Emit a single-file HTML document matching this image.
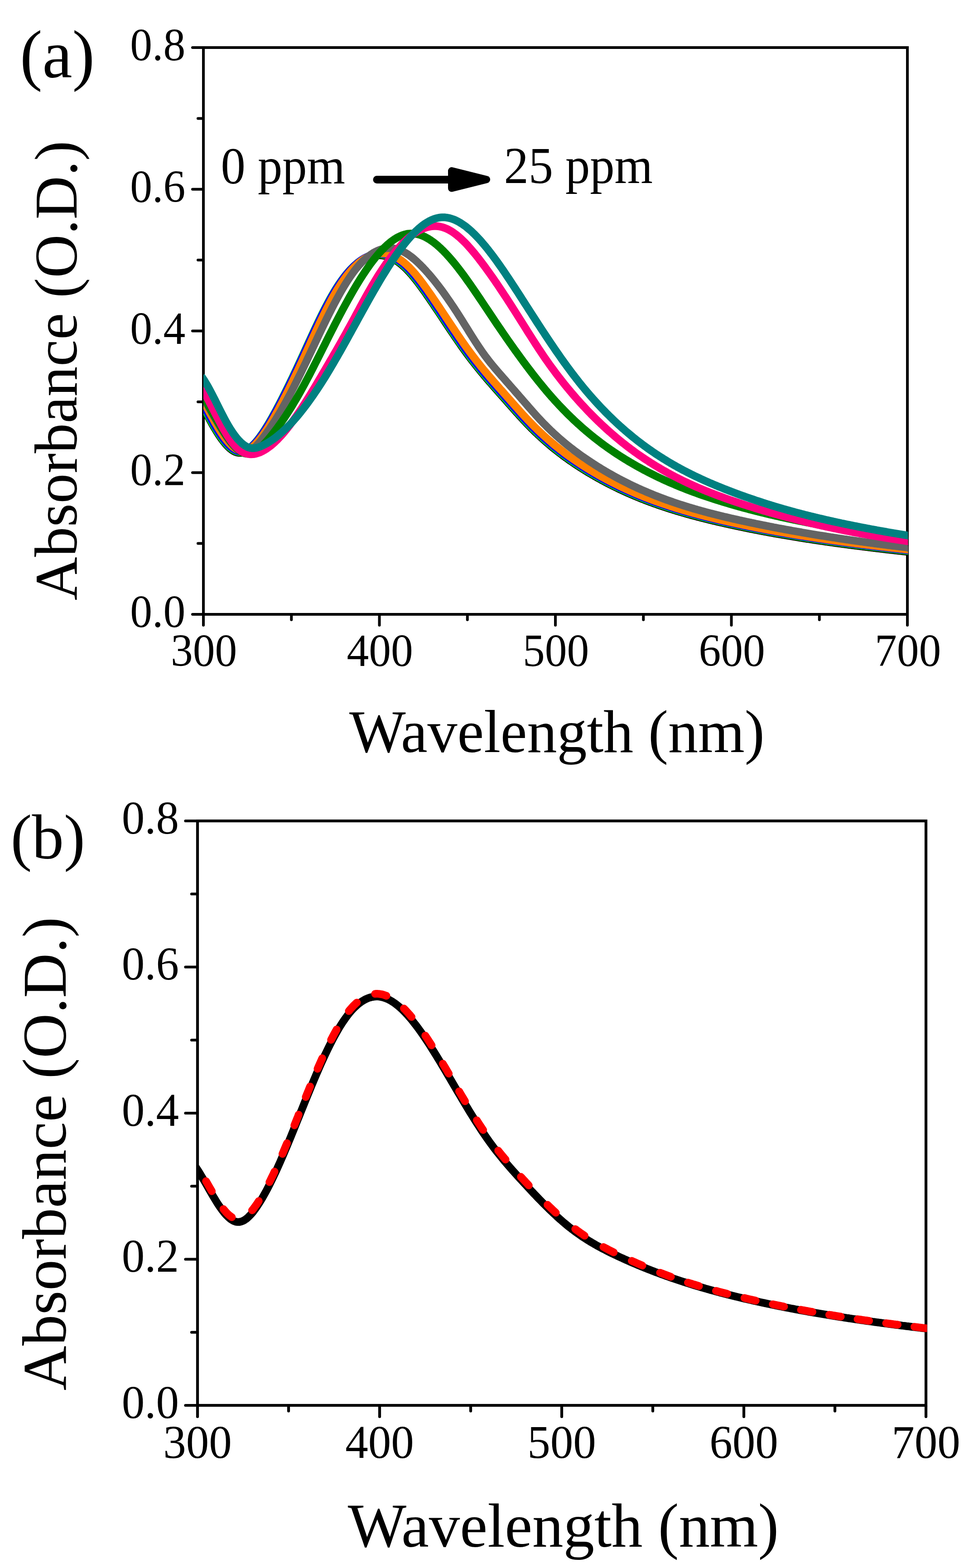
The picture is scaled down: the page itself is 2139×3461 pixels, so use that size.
<!DOCTYPE html>
<html><head><meta charset="utf-8"><title>Absorbance spectra</title>
<style>html,body{margin:0;padding:0;background:#fff;}svg{display:block;}</style>
</head><body>
<svg width="2139" height="3461" viewBox="0 0 2139 3461">
<defs>
<clipPath id="ca"><rect x="449" y="0" width="1555.5" height="1700"/></clipPath>
<clipPath id="cb"><rect x="436" y="1700" width="1610.5" height="1761"/></clipPath>
</defs>
<rect width="2139" height="3461" fill="#fff"/>
<g font-family="'Liberation Serif', 'Times New Roman', serif" fill="#000">
<text transform="translate(44.00,170.50) scale(1,1.01)" font-size="148.6">(a)</text>
<text transform="translate(409.20,1384.00) scale(1,1.035)" font-size="97.5" text-anchor="end">0.0</text>
<text transform="translate(409.20,1071.25) scale(1,1.035)" font-size="97.5" text-anchor="end">0.2</text>
<text transform="translate(409.20,758.50) scale(1,1.035)" font-size="97.5" text-anchor="end">0.4</text>
<text transform="translate(409.20,445.75) scale(1,1.035)" font-size="97.5" text-anchor="end">0.6</text>
<text transform="translate(409.20,133.00) scale(1,1.035)" font-size="97.5" text-anchor="end">0.8</text>
<text transform="translate(450.00,1470.00) scale(1,1.035)" font-size="97.5" text-anchor="middle">300</text>
<text transform="translate(838.50,1470.00) scale(1,1.035)" font-size="97.5" text-anchor="middle">400</text>
<text transform="translate(1227.00,1470.00) scale(1,1.035)" font-size="97.5" text-anchor="middle">500</text>
<text transform="translate(1615.50,1470.00) scale(1,1.035)" font-size="97.5" text-anchor="middle">600</text>
<text transform="translate(2004.00,1470.00) scale(1,1.035)" font-size="97.5" text-anchor="middle">700</text>
<text transform="translate(771.00,1660.00) scale(1,1.01)" font-size="132.0">Wavelength (nm)</text>
<text transform="translate(168.50,1325.30) rotate(-90)" font-size="132.85">Absorbance (O.D.)</text>
<text transform="translate(487.60,404.50) scale(1,1.045)" font-size="108.5">0 ppm</text>
<text transform="translate(1112.40,403.50) scale(1,1.045)" font-size="108.5">25 ppm</text>
<text transform="translate(23.60,1894.50)" font-size="140.8">(b)</text>
<text transform="translate(395.00,3129.60) scale(1,1.03)" font-size="101.0" text-anchor="end">0.0</text>
<text transform="translate(395.00,2807.10) scale(1,1.03)" font-size="101.0" text-anchor="end">0.2</text>
<text transform="translate(395.00,2484.60) scale(1,1.03)" font-size="101.0" text-anchor="end">0.4</text>
<text transform="translate(395.00,2162.10) scale(1,1.03)" font-size="101.0" text-anchor="end">0.6</text>
<text transform="translate(395.00,1839.60) scale(1,1.03)" font-size="101.0" text-anchor="end">0.8</text>
<text transform="translate(436.00,3218.30) scale(1,1.03)" font-size="101.0" text-anchor="middle">300</text>
<text transform="translate(838.00,3218.30) scale(1,1.03)" font-size="101.0" text-anchor="middle">400</text>
<text transform="translate(1240.00,3218.30) scale(1,1.03)" font-size="101.0" text-anchor="middle">500</text>
<text transform="translate(1642.00,3218.30) scale(1,1.03)" font-size="101.0" text-anchor="middle">600</text>
<text transform="translate(2044.00,3218.30) scale(1,1.03)" font-size="101.0" text-anchor="middle">700</text>
<text transform="translate(767.70,3413.60)" font-size="137.0">Wavelength (nm)</text>
<text transform="translate(145.00,3069.20) rotate(-90)" font-size="136.9">Absorbance (O.D.)</text>
</g>
<rect x="449" y="105" width="1554" height="1251" fill="none" stroke="#000" stroke-width="6" stroke-linejoin="miter"/>
<line x1="449.00" y1="1356" x2="449.00" y2="1380" stroke="#000" stroke-width="6" stroke-linecap="round"/>
<line x1="643.25" y1="1356" x2="643.25" y2="1368" stroke="#000" stroke-width="6" stroke-linecap="round"/>
<line x1="837.50" y1="1356" x2="837.50" y2="1380" stroke="#000" stroke-width="6" stroke-linecap="round"/>
<line x1="1031.75" y1="1356" x2="1031.75" y2="1368" stroke="#000" stroke-width="6" stroke-linecap="round"/>
<line x1="1226.00" y1="1356" x2="1226.00" y2="1380" stroke="#000" stroke-width="6" stroke-linecap="round"/>
<line x1="1420.25" y1="1356" x2="1420.25" y2="1368" stroke="#000" stroke-width="6" stroke-linecap="round"/>
<line x1="1614.50" y1="1356" x2="1614.50" y2="1380" stroke="#000" stroke-width="6" stroke-linecap="round"/>
<line x1="1808.75" y1="1356" x2="1808.75" y2="1368" stroke="#000" stroke-width="6" stroke-linecap="round"/>
<line x1="2003.00" y1="1356" x2="2003.00" y2="1380" stroke="#000" stroke-width="6" stroke-linecap="round"/>
<line x1="449" y1="1356.00" x2="425" y2="1356.00" stroke="#000" stroke-width="6" stroke-linecap="round"/>
<line x1="449" y1="1199.62" x2="437" y2="1199.62" stroke="#000" stroke-width="6" stroke-linecap="round"/>
<line x1="449" y1="1043.25" x2="425" y2="1043.25" stroke="#000" stroke-width="6" stroke-linecap="round"/>
<line x1="449" y1="886.88" x2="437" y2="886.88" stroke="#000" stroke-width="6" stroke-linecap="round"/>
<line x1="449" y1="730.50" x2="425" y2="730.50" stroke="#000" stroke-width="6" stroke-linecap="round"/>
<line x1="449" y1="574.12" x2="437" y2="574.12" stroke="#000" stroke-width="6" stroke-linecap="round"/>
<line x1="449" y1="417.75" x2="425" y2="417.75" stroke="#000" stroke-width="6" stroke-linecap="round"/>
<line x1="449" y1="261.38" x2="437" y2="261.38" stroke="#000" stroke-width="6" stroke-linecap="round"/>
<line x1="449" y1="105.00" x2="425" y2="105.00" stroke="#000" stroke-width="6" stroke-linecap="round"/>
<rect x="436" y="1812" width="1608" height="1290" fill="none" stroke="#000" stroke-width="6.2" stroke-linejoin="miter"/>
<line x1="436.00" y1="3102" x2="436.00" y2="3127" stroke="#000" stroke-width="6.2" stroke-linecap="round"/>
<line x1="637.00" y1="3102" x2="637.00" y2="3114.5" stroke="#000" stroke-width="6.2" stroke-linecap="round"/>
<line x1="838.00" y1="3102" x2="838.00" y2="3127" stroke="#000" stroke-width="6.2" stroke-linecap="round"/>
<line x1="1039.00" y1="3102" x2="1039.00" y2="3114.5" stroke="#000" stroke-width="6.2" stroke-linecap="round"/>
<line x1="1240.00" y1="3102" x2="1240.00" y2="3127" stroke="#000" stroke-width="6.2" stroke-linecap="round"/>
<line x1="1441.00" y1="3102" x2="1441.00" y2="3114.5" stroke="#000" stroke-width="6.2" stroke-linecap="round"/>
<line x1="1642.00" y1="3102" x2="1642.00" y2="3127" stroke="#000" stroke-width="6.2" stroke-linecap="round"/>
<line x1="1843.00" y1="3102" x2="1843.00" y2="3114.5" stroke="#000" stroke-width="6.2" stroke-linecap="round"/>
<line x1="2044.00" y1="3102" x2="2044.00" y2="3127" stroke="#000" stroke-width="6.2" stroke-linecap="round"/>
<line x1="436" y1="3102.00" x2="409.5" y2="3102.00" stroke="#000" stroke-width="6.2" stroke-linecap="round"/>
<line x1="436" y1="2940.75" x2="423" y2="2940.75" stroke="#000" stroke-width="6.2" stroke-linecap="round"/>
<line x1="436" y1="2779.50" x2="409.5" y2="2779.50" stroke="#000" stroke-width="6.2" stroke-linecap="round"/>
<line x1="436" y1="2618.25" x2="423" y2="2618.25" stroke="#000" stroke-width="6.2" stroke-linecap="round"/>
<line x1="436" y1="2457.00" x2="409.5" y2="2457.00" stroke="#000" stroke-width="6.2" stroke-linecap="round"/>
<line x1="436" y1="2295.75" x2="423" y2="2295.75" stroke="#000" stroke-width="6.2" stroke-linecap="round"/>
<line x1="436" y1="2134.50" x2="409.5" y2="2134.50" stroke="#000" stroke-width="6.2" stroke-linecap="round"/>
<line x1="436" y1="1973.25" x2="423" y2="1973.25" stroke="#000" stroke-width="6.2" stroke-linecap="round"/>
<line x1="436" y1="1812.00" x2="409.5" y2="1812.00" stroke="#000" stroke-width="6.2" stroke-linecap="round"/>
<line x1="832" y1="396.4" x2="995" y2="396.4" stroke="#000" stroke-width="17" stroke-linecap="round"/><polygon points="997,377 997,415.5 1074,396.2" fill="#000" stroke="#000" stroke-width="16" stroke-linejoin="round"/>
<g clip-path="url(#ca)" fill="none" stroke-linejoin="round">
<path d="M444.5,891.5 L447.5,897.3 L450.5,903.0 L453.5,908.7 L456.5,914.4 L459.5,920.0 L462.5,925.5 L465.5,930.9 L468.5,936.3 L471.5,941.5 L474.5,946.5 L477.5,951.5 L480.5,956.2 L483.5,960.8 L486.5,965.3 L489.5,969.5 L492.5,973.5 L495.5,977.2 L498.5,980.8 L501.5,984.0 L504.5,987.0 L507.5,989.8 L510.5,992.2 L513.5,994.3 L516.5,996.1 L519.5,997.5 L522.5,998.6 L525.5,999.3 L528.5,999.6 L531.5,999.6 L534.5,999.2 L537.5,998.4 L540.5,997.2 L543.5,995.7 L546.5,993.9 L549.5,991.8 L552.5,989.4 L555.5,986.7 L558.5,983.8 L561.5,980.6 L564.5,977.2 L567.5,973.5 L570.5,969.7 L573.5,965.7 L576.5,961.5 L579.5,957.1 L582.5,952.6 L585.5,947.9 L588.5,943.1 L591.5,938.2 L594.5,933.1 L597.5,927.9 L600.5,922.6 L603.5,917.2 L606.5,911.7 L609.5,906.2 L612.5,900.5 L615.5,894.8 L618.5,889.0 L621.5,883.2 L624.5,877.3 L627.5,871.3 L630.5,865.3 L633.5,859.2 L636.5,853.1 L639.5,846.9 L642.5,840.7 L645.5,834.4 L648.5,828.1 L651.5,821.7 L654.5,815.3 L657.5,808.9 L660.5,802.4 L663.5,795.9 L666.5,789.4 L669.5,782.8 L672.5,776.2 L675.5,769.7 L678.5,763.1 L681.5,756.5 L684.5,750.0 L687.5,743.5 L690.5,737.0 L693.5,730.6 L696.5,724.2 L699.5,717.8 L702.5,711.5 L705.5,705.3 L708.5,699.2 L711.5,693.1 L714.5,687.1 L717.5,681.3 L720.5,675.5 L723.5,669.8 L726.5,664.3 L729.5,658.9 L732.5,653.6 L735.5,648.4 L738.5,643.4 L741.5,638.6 L744.5,633.9 L747.5,629.4 L750.5,625.0 L753.5,620.7 L756.5,616.6 L759.5,612.7 L762.5,608.9 L765.5,605.3 L768.5,601.8 L771.5,598.5 L774.5,595.3 L777.5,592.3 L780.5,589.4 L783.5,586.6 L786.5,584.1 L789.5,581.6 L792.5,579.4 L795.5,577.3 L798.5,575.3 L801.5,573.5 L804.5,571.8 L807.5,570.3 L810.5,568.9 L813.5,567.7 L816.5,566.6 L819.5,565.7 L822.5,564.9 L825.5,564.3 L828.5,563.8 L831.5,563.5 L834.5,563.4 L837.5,563.3 L840.5,563.5 L843.5,563.8 L846.5,564.2 L849.5,564.8 L852.5,565.5 L855.5,566.4 L858.5,567.4 L861.5,568.6 L864.5,569.9 L867.5,571.4 L870.5,573.0 L873.5,574.8 L876.5,576.8 L879.5,578.8 L882.5,581.1 L885.5,583.4 L888.5,586.0 L891.5,588.6 L894.5,591.5 L897.5,594.4 L900.5,597.5 L903.5,600.7 L906.5,604.1 L909.5,607.5 L912.5,611.1 L915.5,614.8 L918.5,618.5 L921.5,622.4 L924.5,626.3 L927.5,630.3 L930.5,634.4 L933.5,638.6 L936.5,642.7 L939.5,647.0 L942.5,651.3 L945.5,655.6 L948.5,660.0 L951.5,664.4 L954.5,668.8 L957.5,673.2 L960.5,677.7 L963.5,682.1 L966.5,686.6 L969.5,691.1 L972.5,695.6 L975.5,700.1 L978.5,704.7 L981.5,709.2 L984.5,713.7 L987.5,718.2 L990.5,722.7 L993.5,727.2 L996.5,731.6 L999.5,736.1 L1002.5,740.5 L1005.5,744.9 L1008.5,749.3 L1011.5,753.7 L1014.5,758.0 L1017.5,762.3 L1020.5,766.6 L1023.5,770.8 L1026.5,774.9 L1029.5,779.1 L1032.5,783.1 L1035.5,787.1 L1038.5,791.1 L1041.5,795.0 L1044.5,798.9 L1047.5,802.7 L1050.5,806.5 L1053.5,810.3 L1056.5,814.0 L1059.5,817.7 L1062.5,821.3 L1065.5,824.9 L1068.5,828.5 L1071.5,832.1 L1074.5,835.6 L1077.5,839.1 L1080.5,842.6 L1083.5,846.0 L1086.5,849.5 L1089.5,852.9 L1092.5,856.3 L1095.5,859.8 L1098.5,863.2 L1101.5,866.5 L1104.5,869.9 L1107.5,873.3 L1110.5,876.7 L1113.5,880.1 L1116.5,883.5 L1119.5,886.9 L1122.5,890.3 L1125.5,893.7 L1128.5,897.1 L1131.5,900.5 L1134.5,903.9 L1137.5,907.2 L1140.5,910.6 L1143.5,913.9 L1146.5,917.3 L1149.5,920.6 L1152.5,923.8 L1155.5,927.1 L1158.5,930.3 L1161.5,933.5 L1164.5,936.6 L1167.5,939.7 L1170.5,942.7 L1173.5,945.8 L1176.5,948.7 L1179.5,951.7 L1182.5,954.6 L1185.5,957.4 L1188.5,960.3 L1191.5,963.0 L1194.5,965.8 L1197.5,968.5 L1200.5,971.2 L1203.5,973.8 L1206.5,976.5 L1209.5,979.0 L1212.5,981.6 L1215.5,984.1 L1218.5,986.6 L1221.5,989.0 L1224.5,991.5 L1227.5,993.8 L1230.5,996.2 L1233.5,998.5 L1236.5,1000.8 L1239.5,1003.1 L1242.5,1005.4 L1245.5,1007.6 L1248.5,1009.8 L1251.5,1011.9 L1254.5,1014.1 L1257.5,1016.2 L1260.5,1018.3 L1263.5,1020.3 L1266.5,1022.4 L1269.5,1024.4 L1272.5,1026.4 L1275.5,1028.4 L1278.5,1030.3 L1281.5,1032.2 L1284.5,1034.1 L1287.5,1036.0 L1290.5,1037.9 L1293.5,1039.7 L1296.5,1041.6 L1299.5,1043.4 L1302.5,1045.2 L1305.5,1046.9 L1308.5,1048.7 L1311.5,1050.4 L1314.5,1052.2 L1317.5,1053.9 L1320.5,1055.5 L1323.5,1057.2 L1326.5,1058.9 L1329.5,1060.5 L1332.5,1062.1 L1335.5,1063.7 L1338.5,1065.3 L1341.5,1066.8 L1344.5,1068.4 L1347.5,1069.9 L1350.5,1071.4 L1353.5,1072.9 L1356.5,1074.4 L1359.5,1075.9 L1362.5,1077.3 L1365.5,1078.8 L1368.5,1080.2 L1371.5,1081.6 L1374.5,1083.0 L1377.5,1084.4 L1380.5,1085.7 L1383.5,1087.1 L1386.5,1088.4 L1389.5,1089.7 L1392.5,1091.1 L1395.5,1092.3 L1398.5,1093.6 L1401.5,1094.9 L1404.5,1096.1 L1407.5,1097.4 L1410.5,1098.6 L1413.5,1099.8 L1416.5,1101.0 L1419.5,1102.2 L1422.5,1103.4 L1425.5,1104.5 L1428.5,1105.7 L1431.5,1106.8 L1434.5,1107.9 L1437.5,1109.0 L1440.5,1110.1 L1443.5,1111.2 L1446.5,1112.3 L1449.5,1113.3 L1452.5,1114.4 L1455.5,1115.4 L1458.5,1116.5 L1461.5,1117.5 L1464.5,1118.5 L1467.5,1119.5 L1470.5,1120.5 L1473.5,1121.5 L1476.5,1122.4 L1479.5,1123.4 L1482.5,1124.3 L1485.5,1125.3 L1488.5,1126.2 L1491.5,1127.1 L1494.5,1128.0 L1497.5,1128.9 L1500.5,1129.8 L1503.5,1130.7 L1506.5,1131.6 L1509.5,1132.4 L1512.5,1133.3 L1515.5,1134.2 L1518.5,1135.0 L1521.5,1135.8 L1524.5,1136.7 L1527.5,1137.5 L1530.5,1138.3 L1533.5,1139.1 L1536.5,1139.9 L1539.5,1140.7 L1542.5,1141.4 L1545.5,1142.2 L1548.5,1143.0 L1551.5,1143.8 L1554.5,1144.5 L1557.5,1145.3 L1560.5,1146.0 L1563.5,1146.7 L1566.5,1147.5 L1569.5,1148.2 L1572.5,1148.9 L1575.5,1149.6 L1578.5,1150.3 L1581.5,1151.1 L1584.5,1151.8 L1587.5,1152.4 L1590.5,1153.1 L1593.5,1153.8 L1596.5,1154.5 L1599.5,1155.2 L1602.5,1155.9 L1605.5,1156.5 L1608.5,1157.2 L1611.5,1157.9 L1614.5,1158.5 L1617.5,1159.2 L1620.5,1159.8 L1623.5,1160.5 L1626.5,1161.1 L1629.5,1161.7 L1632.5,1162.4 L1635.5,1163.0 L1638.5,1163.6 L1641.5,1164.2 L1644.5,1164.9 L1647.5,1165.5 L1650.5,1166.1 L1653.5,1166.7 L1656.5,1167.3 L1659.5,1167.9 L1662.5,1168.5 L1665.5,1169.1 L1668.5,1169.7 L1671.5,1170.2 L1674.5,1170.8 L1677.5,1171.4 L1680.5,1172.0 L1683.5,1172.5 L1686.5,1173.1 L1689.5,1173.7 L1692.5,1174.2 L1695.5,1174.8 L1698.5,1175.3 L1701.5,1175.9 L1704.5,1176.4 L1707.5,1177.0 L1710.5,1177.5 L1713.5,1178.0 L1716.5,1178.6 L1719.5,1179.1 L1722.5,1179.6 L1725.5,1180.1 L1728.5,1180.7 L1731.5,1181.2 L1734.5,1181.7 L1737.5,1182.2 L1740.5,1182.7 L1743.5,1183.2 L1746.5,1183.7 L1749.5,1184.2 L1752.5,1184.7 L1755.5,1185.2 L1758.5,1185.7 L1761.5,1186.2 L1764.5,1186.7 L1767.5,1187.1 L1770.5,1187.6 L1773.5,1188.1 L1776.5,1188.6 L1779.5,1189.0 L1782.5,1189.5 L1785.5,1189.9 L1788.5,1190.4 L1791.5,1190.9 L1794.5,1191.3 L1797.5,1191.8 L1800.5,1192.2 L1803.5,1192.7 L1806.5,1193.1 L1809.5,1193.6 L1812.5,1194.0 L1815.5,1194.4 L1818.5,1194.9 L1821.5,1195.3 L1824.5,1195.7 L1827.5,1196.2 L1830.5,1196.6 L1833.5,1197.0 L1836.5,1197.4 L1839.5,1197.8 L1842.5,1198.3 L1845.5,1198.7 L1848.5,1199.1 L1851.5,1199.5 L1854.5,1199.9 L1857.5,1200.3 L1860.5,1200.7 L1863.5,1201.1 L1866.5,1201.5 L1869.5,1201.9 L1872.5,1202.3 L1875.5,1202.7 L1878.5,1203.1 L1881.5,1203.5 L1884.5,1203.9 L1887.5,1204.2 L1890.5,1204.6 L1893.5,1205.0 L1896.5,1205.4 L1899.5,1205.8 L1902.5,1206.1 L1905.5,1206.5 L1908.5,1206.9 L1911.5,1207.3 L1914.5,1207.6 L1917.5,1208.0 L1920.5,1208.4 L1923.5,1208.7 L1926.5,1209.1 L1929.5,1209.5 L1932.5,1209.8 L1935.5,1210.2 L1938.5,1210.5 L1941.5,1210.9 L1944.5,1211.3 L1947.5,1211.6 L1950.5,1212.0 L1953.5,1212.3 L1956.5,1212.7 L1959.5,1213.0 L1962.5,1213.4 L1965.5,1213.7 L1968.5,1214.0 L1971.5,1214.4 L1974.5,1214.7 L1977.5,1215.1 L1980.5,1215.4 L1983.5,1215.8 L1986.5,1216.1 L1989.5,1216.4 L1992.5,1216.8 L1995.5,1217.1 L1998.5,1217.4 L2001.5,1217.8 L2004.5,1218.1 L2007.5,1218.4 L2010.5,1218.8 L2012.0,1218.9" stroke="#000000" stroke-width="17"/>
<path d="M444.5,888.7 L447.5,894.4 L450.5,900.2 L453.5,905.9 L456.5,911.5 L459.5,917.2 L462.5,922.7 L465.5,928.1 L468.5,933.5 L471.5,938.7 L474.5,943.8 L477.5,948.8 L480.5,953.6 L483.5,958.2 L486.5,962.6 L489.5,966.9 L492.5,970.9 L495.5,974.7 L498.5,978.3 L501.5,981.6 L504.5,984.7 L507.5,987.4 L510.5,989.9 L513.5,992.0 L516.5,993.9 L519.5,995.4 L522.5,996.5 L525.5,997.3 L528.5,997.7 L531.5,997.7 L534.5,997.4 L537.5,996.6 L540.5,995.5 L543.5,994.1 L546.5,992.3 L549.5,990.3 L552.5,987.9 L555.5,985.3 L558.5,982.4 L561.5,979.2 L564.5,975.9 L567.5,972.3 L570.5,968.5 L573.5,964.5 L576.5,960.3 L579.5,956.0 L582.5,951.5 L585.5,946.8 L588.5,942.0 L591.5,937.1 L594.5,932.0 L597.5,926.9 L600.5,921.6 L603.5,916.2 L606.5,910.7 L609.5,905.2 L612.5,899.6 L615.5,893.9 L618.5,888.1 L621.5,882.3 L624.5,876.4 L627.5,870.4 L630.5,864.4 L633.5,858.3 L636.5,852.2 L639.5,846.0 L642.5,839.8 L645.5,833.6 L648.5,827.2 L651.5,820.9 L654.5,814.5 L657.5,808.1 L660.5,801.6 L663.5,795.1 L666.5,788.6 L669.5,782.0 L672.5,775.4 L675.5,768.9 L678.5,762.3 L681.5,755.7 L684.5,749.2 L687.5,742.7 L690.5,736.2 L693.5,729.7 L696.5,723.3 L699.5,717.0 L702.5,710.7 L705.5,704.5 L708.5,698.3 L711.5,692.2 L714.5,686.2 L717.5,680.3 L720.5,674.6 L723.5,668.9 L726.5,663.3 L729.5,657.9 L732.5,652.6 L735.5,647.4 L738.5,642.4 L741.5,637.5 L744.5,632.8 L747.5,628.2 L750.5,623.8 L753.5,619.5 L756.5,615.4 L759.5,611.4 L762.5,607.6 L765.5,604.0 L768.5,600.5 L771.5,597.1 L774.5,593.9 L777.5,590.8 L780.5,587.9 L783.5,585.2 L786.5,582.6 L789.5,580.1 L792.5,577.8 L795.5,575.7 L798.5,573.7 L801.5,571.8 L804.5,570.2 L807.5,568.6 L810.5,567.2 L813.5,566.0 L816.5,564.9 L819.5,563.9 L822.5,563.1 L825.5,562.5 L828.5,562.0 L831.5,561.7 L834.5,561.5 L837.5,561.4 L840.5,561.5 L843.5,561.8 L846.5,562.2 L849.5,562.8 L852.5,563.5 L855.5,564.3 L858.5,565.3 L861.5,566.5 L864.5,567.8 L867.5,569.3 L870.5,570.9 L873.5,572.6 L876.5,574.5 L879.5,576.6 L882.5,578.8 L885.5,581.1 L888.5,583.6 L891.5,586.3 L894.5,589.1 L897.5,592.0 L900.5,595.1 L903.5,598.3 L906.5,601.6 L909.5,605.1 L912.5,608.6 L915.5,612.3 L918.5,616.0 L921.5,619.8 L924.5,623.8 L927.5,627.8 L930.5,631.8 L933.5,636.0 L936.5,640.1 L939.5,644.4 L942.5,648.7 L945.5,653.0 L948.5,657.3 L951.5,661.7 L954.5,666.1 L957.5,670.6 L960.5,675.0 L963.5,679.5 L966.5,684.0 L969.5,688.5 L972.5,693.0 L975.5,697.5 L978.5,702.0 L981.5,706.5 L984.5,711.0 L987.5,715.5 L990.5,720.0 L993.5,724.5 L996.5,729.0 L999.5,733.5 L1002.5,737.9 L1005.5,742.3 L1008.5,746.7 L1011.5,751.1 L1014.5,755.4 L1017.5,759.7 L1020.5,763.9 L1023.5,768.2 L1026.5,772.3 L1029.5,776.5 L1032.5,780.5 L1035.5,784.6 L1038.5,788.6 L1041.5,792.5 L1044.5,796.4 L1047.5,800.2 L1050.5,804.0 L1053.5,807.8 L1056.5,811.5 L1059.5,815.2 L1062.5,818.8 L1065.5,822.4 L1068.5,826.0 L1071.5,829.6 L1074.5,833.1 L1077.5,836.6 L1080.5,840.1 L1083.5,843.6 L1086.5,847.0 L1089.5,850.5 L1092.5,853.9 L1095.5,857.3 L1098.5,860.7 L1101.5,864.1 L1104.5,867.5 L1107.5,870.9 L1110.5,874.2 L1113.5,877.6 L1116.5,881.0 L1119.5,884.4 L1122.5,887.8 L1125.5,891.2 L1128.5,894.6 L1131.5,898.0 L1134.5,901.4 L1137.5,904.8 L1140.5,908.1 L1143.5,911.5 L1146.5,914.8 L1149.5,918.1 L1152.5,921.4 L1155.5,924.6 L1158.5,927.9 L1161.5,931.0 L1164.5,934.2 L1167.5,937.3 L1170.5,940.3 L1173.5,943.4 L1176.5,946.3 L1179.5,949.3 L1182.5,952.2 L1185.5,955.1 L1188.5,957.9 L1191.5,960.7 L1194.5,963.4 L1197.5,966.2 L1200.5,968.9 L1203.5,971.5 L1206.5,974.1 L1209.5,976.7 L1212.5,979.3 L1215.5,981.8 L1218.5,984.3 L1221.5,986.7 L1224.5,989.1 L1227.5,991.5 L1230.5,993.9 L1233.5,996.2 L1236.5,998.6 L1239.5,1000.8 L1242.5,1003.1 L1245.5,1005.3 L1248.5,1007.5 L1251.5,1009.7 L1254.5,1011.8 L1257.5,1013.9 L1260.5,1016.0 L1263.5,1018.1 L1266.5,1020.1 L1269.5,1022.2 L1272.5,1024.1 L1275.5,1026.1 L1278.5,1028.1 L1281.5,1030.0 L1284.5,1031.9 L1287.5,1033.8 L1290.5,1035.7 L1293.5,1037.5 L1296.5,1039.4 L1299.5,1041.2 L1302.5,1043.0 L1305.5,1044.7 L1308.5,1046.5 L1311.5,1048.2 L1314.5,1050.0 L1317.5,1051.7 L1320.5,1053.4 L1323.5,1055.0 L1326.5,1056.7 L1329.5,1058.3 L1332.5,1059.9 L1335.5,1061.5 L1338.5,1063.1 L1341.5,1064.7 L1344.5,1066.2 L1347.5,1067.8 L1350.5,1069.3 L1353.5,1070.8 L1356.5,1072.3 L1359.5,1073.8 L1362.5,1075.2 L1365.5,1076.6 L1368.5,1078.1 L1371.5,1079.5 L1374.5,1080.9 L1377.5,1082.3 L1380.5,1083.6 L1383.5,1085.0 L1386.5,1086.3 L1389.5,1087.6 L1392.5,1088.9 L1395.5,1090.2 L1398.5,1091.5 L1401.5,1092.8 L1404.5,1094.0 L1407.5,1095.3 L1410.5,1096.5 L1413.5,1097.7 L1416.5,1098.9 L1419.5,1100.1 L1422.5,1101.3 L1425.5,1102.4 L1428.5,1103.6 L1431.5,1104.7 L1434.5,1105.8 L1437.5,1106.9 L1440.5,1108.0 L1443.5,1109.1 L1446.5,1110.2 L1449.5,1111.3 L1452.5,1112.3 L1455.5,1113.4 L1458.5,1114.4 L1461.5,1115.4 L1464.5,1116.4 L1467.5,1117.4 L1470.5,1118.4 L1473.5,1119.4 L1476.5,1120.4 L1479.5,1121.3 L1482.5,1122.3 L1485.5,1123.2 L1488.5,1124.1 L1491.5,1125.1 L1494.5,1126.0 L1497.5,1126.9 L1500.5,1127.8 L1503.5,1128.7 L1506.5,1129.5 L1509.5,1130.4 L1512.5,1131.3 L1515.5,1132.1 L1518.5,1133.0 L1521.5,1133.8 L1524.5,1134.6 L1527.5,1135.4 L1530.5,1136.2 L1533.5,1137.0 L1536.5,1137.8 L1539.5,1138.6 L1542.5,1139.4 L1545.5,1140.2 L1548.5,1141.0 L1551.5,1141.7 L1554.5,1142.5 L1557.5,1143.2 L1560.5,1144.0 L1563.5,1144.7 L1566.5,1145.5 L1569.5,1146.2 L1572.5,1146.9 L1575.5,1147.6 L1578.5,1148.3 L1581.5,1149.0 L1584.5,1149.7 L1587.5,1150.4 L1590.5,1151.1 L1593.5,1151.8 L1596.5,1152.5 L1599.5,1153.2 L1602.5,1153.8 L1605.5,1154.5 L1608.5,1155.2 L1611.5,1155.8 L1614.5,1156.5 L1617.5,1157.2 L1620.5,1157.8 L1623.5,1158.5 L1626.5,1159.1 L1629.5,1159.7 L1632.5,1160.4 L1635.5,1161.0 L1638.5,1161.6 L1641.5,1162.2 L1644.5,1162.9 L1647.5,1163.5 L1650.5,1164.1 L1653.5,1164.7 L1656.5,1165.3 L1659.5,1165.9 L1662.5,1166.5 L1665.5,1167.1 L1668.5,1167.7 L1671.5,1168.2 L1674.5,1168.8 L1677.5,1169.4 L1680.5,1170.0 L1683.5,1170.5 L1686.5,1171.1 L1689.5,1171.7 L1692.5,1172.2 L1695.5,1172.8 L1698.5,1173.3 L1701.5,1173.9 L1704.5,1174.4 L1707.5,1175.0 L1710.5,1175.5 L1713.5,1176.1 L1716.5,1176.6 L1719.5,1177.1 L1722.5,1177.6 L1725.5,1178.2 L1728.5,1178.7 L1731.5,1179.2 L1734.5,1179.7 L1737.5,1180.2 L1740.5,1180.7 L1743.5,1181.2 L1746.5,1181.7 L1749.5,1182.2 L1752.5,1182.7 L1755.5,1183.2 L1758.5,1183.7 L1761.5,1184.2 L1764.5,1184.7 L1767.5,1185.2 L1770.5,1185.6 L1773.5,1186.1 L1776.5,1186.6 L1779.5,1187.0 L1782.5,1187.5 L1785.5,1188.0 L1788.5,1188.4 L1791.5,1188.9 L1794.5,1189.3 L1797.5,1189.8 L1800.5,1190.2 L1803.5,1190.7 L1806.5,1191.1 L1809.5,1191.6 L1812.5,1192.0 L1815.5,1192.5 L1818.5,1192.9 L1821.5,1193.3 L1824.5,1193.8 L1827.5,1194.2 L1830.5,1194.6 L1833.5,1195.0 L1836.5,1195.5 L1839.5,1195.9 L1842.5,1196.3 L1845.5,1196.7 L1848.5,1197.1 L1851.5,1197.5 L1854.5,1197.9 L1857.5,1198.3 L1860.5,1198.7 L1863.5,1199.1 L1866.5,1199.5 L1869.5,1199.9 L1872.5,1200.3 L1875.5,1200.7 L1878.5,1201.1 L1881.5,1201.5 L1884.5,1201.9 L1887.5,1202.3 L1890.5,1202.7 L1893.5,1203.1 L1896.5,1203.4 L1899.5,1203.8 L1902.5,1204.2 L1905.5,1204.6 L1908.5,1204.9 L1911.5,1205.3 L1914.5,1205.7 L1917.5,1206.0 L1920.5,1206.4 L1923.5,1206.8 L1926.5,1207.1 L1929.5,1207.5 L1932.5,1207.9 L1935.5,1208.2 L1938.5,1208.6 L1941.5,1208.9 L1944.5,1209.3 L1947.5,1209.6 L1950.5,1210.0 L1953.5,1210.4 L1956.5,1210.7 L1959.5,1211.0 L1962.5,1211.4 L1965.5,1211.7 L1968.5,1212.1 L1971.5,1212.4 L1974.5,1212.8 L1977.5,1213.1 L1980.5,1213.5 L1983.5,1213.8 L1986.5,1214.1 L1989.5,1214.5 L1992.5,1214.8 L1995.5,1215.1 L1998.5,1215.5 L2001.5,1215.8 L2004.5,1216.1 L2007.5,1216.5 L2010.5,1216.8 L2012.0,1217.0" stroke="#00FF00" stroke-width="17"/>
<path d="M444.5,884.7 L447.5,890.5 L450.5,896.2 L453.5,901.9 L456.5,907.6 L459.5,913.3 L462.5,918.8 L465.5,924.3 L468.5,929.7 L471.5,935.0 L474.5,940.2 L477.5,945.2 L480.5,950.1 L483.5,954.8 L486.5,959.3 L489.5,963.7 L492.5,967.8 L495.5,971.7 L498.5,975.4 L501.5,978.9 L504.5,982.1 L507.5,985.0 L510.5,987.6 L513.5,989.9 L516.5,991.9 L519.5,993.6 L522.5,994.9 L525.5,995.9 L528.5,996.5 L531.5,996.7 L534.5,996.5 L537.5,995.9 L540.5,995.0 L543.5,993.8 L546.5,992.2 L549.5,990.3 L552.5,988.0 L555.5,985.5 L558.5,982.8 L561.5,979.8 L564.5,976.5 L567.5,973.0 L570.5,969.3 L573.5,965.4 L576.5,961.3 L579.5,957.0 L582.5,952.6 L585.5,948.1 L588.5,943.3 L591.5,938.5 L594.5,933.5 L597.5,928.4 L600.5,923.1 L603.5,917.8 L606.5,912.4 L609.5,906.9 L612.5,901.3 L615.5,895.6 L618.5,889.9 L621.5,884.1 L624.5,878.2 L627.5,872.3 L630.5,866.3 L633.5,860.3 L636.5,854.2 L639.5,848.0 L642.5,841.8 L645.5,835.6 L648.5,829.3 L651.5,823.0 L654.5,816.6 L657.5,810.2 L660.5,803.7 L663.5,797.2 L666.5,790.7 L669.5,784.2 L672.5,777.6 L675.5,771.1 L678.5,764.5 L681.5,757.9 L684.5,751.4 L687.5,744.8 L690.5,738.3 L693.5,731.9 L696.5,725.4 L699.5,719.0 L702.5,712.7 L705.5,706.5 L708.5,700.3 L711.5,694.1 L714.5,688.1 L717.5,682.2 L720.5,676.3 L723.5,670.6 L726.5,665.0 L729.5,659.5 L732.5,654.1 L735.5,648.9 L738.5,643.8 L741.5,638.8 L744.5,634.0 L747.5,629.4 L750.5,624.9 L753.5,620.5 L756.5,616.3 L759.5,612.3 L762.5,608.4 L765.5,604.7 L768.5,601.1 L771.5,597.7 L774.5,594.4 L777.5,591.3 L780.5,588.3 L783.5,585.4 L786.5,582.8 L789.5,580.2 L792.5,577.9 L795.5,575.6 L798.5,573.6 L801.5,571.7 L804.5,569.9 L807.5,568.3 L810.5,566.8 L813.5,565.5 L816.5,564.3 L819.5,563.3 L822.5,562.4 L825.5,561.7 L828.5,561.1 L831.5,560.7 L834.5,560.5 L837.5,560.3 L840.5,560.4 L843.5,560.6 L846.5,560.9 L849.5,561.4 L852.5,562.0 L855.5,562.8 L858.5,563.7 L861.5,564.8 L864.5,566.0 L867.5,567.4 L870.5,568.9 L873.5,570.6 L876.5,572.5 L879.5,574.4 L882.5,576.6 L885.5,578.8 L888.5,581.3 L891.5,583.8 L894.5,586.6 L897.5,589.4 L900.5,592.4 L903.5,595.6 L906.5,598.8 L909.5,602.2 L912.5,605.7 L915.5,609.3 L918.5,613.0 L921.5,616.8 L924.5,620.7 L927.5,624.7 L930.5,628.7 L933.5,632.8 L936.5,636.9 L939.5,641.2 L942.5,645.4 L945.5,649.7 L948.5,654.1 L951.5,658.4 L954.5,662.8 L957.5,667.2 L960.5,671.7 L963.5,676.1 L966.5,680.6 L969.5,685.1 L972.5,689.6 L975.5,694.1 L978.5,698.6 L981.5,703.2 L984.5,707.7 L987.5,712.2 L990.5,716.7 L993.5,721.2 L996.5,725.7 L999.5,730.1 L1002.5,734.6 L1005.5,739.0 L1008.5,743.4 L1011.5,747.8 L1014.5,752.1 L1017.5,756.4 L1020.5,760.7 L1023.5,765.0 L1026.5,769.2 L1029.5,773.3 L1032.5,777.4 L1035.5,781.5 L1038.5,785.5 L1041.5,789.4 L1044.5,793.3 L1047.5,797.2 L1050.5,801.0 L1053.5,804.8 L1056.5,808.5 L1059.5,812.2 L1062.5,815.9 L1065.5,819.5 L1068.5,823.1 L1071.5,826.7 L1074.5,830.2 L1077.5,833.8 L1080.5,837.3 L1083.5,840.7 L1086.5,844.2 L1089.5,847.6 L1092.5,851.1 L1095.5,854.5 L1098.5,857.9 L1101.5,861.3 L1104.5,864.7 L1107.5,868.1 L1110.5,871.4 L1113.5,874.8 L1116.5,878.2 L1119.5,881.6 L1122.5,885.0 L1125.5,888.4 L1128.5,891.8 L1131.5,895.2 L1134.5,898.6 L1137.5,902.0 L1140.5,905.3 L1143.5,908.7 L1146.5,912.0 L1149.5,915.4 L1152.5,918.7 L1155.5,921.9 L1158.5,925.2 L1161.5,928.3 L1164.5,931.5 L1167.5,934.6 L1170.5,937.7 L1173.5,940.8 L1176.5,943.8 L1179.5,946.7 L1182.5,949.6 L1185.5,952.5 L1188.5,955.4 L1191.5,958.2 L1194.5,961.0 L1197.5,963.7 L1200.5,966.4 L1203.5,969.1 L1206.5,971.7 L1209.5,974.3 L1212.5,976.9 L1215.5,979.4 L1218.5,981.9 L1221.5,984.4 L1224.5,986.8 L1227.5,989.3 L1230.5,991.6 L1233.5,994.0 L1236.5,996.3 L1239.5,998.6 L1242.5,1000.9 L1245.5,1003.1 L1248.5,1005.3 L1251.5,1007.5 L1254.5,1009.6 L1257.5,1011.8 L1260.5,1013.9 L1263.5,1016.0 L1266.5,1018.0 L1269.5,1020.0 L1272.5,1022.1 L1275.5,1024.0 L1278.5,1026.0 L1281.5,1027.9 L1284.5,1029.9 L1287.5,1031.8 L1290.5,1033.6 L1293.5,1035.5 L1296.5,1037.4 L1299.5,1039.2 L1302.5,1041.0 L1305.5,1042.8 L1308.5,1044.5 L1311.5,1046.3 L1314.5,1048.0 L1317.5,1049.7 L1320.5,1051.4 L1323.5,1053.1 L1326.5,1054.8 L1329.5,1056.4 L1332.5,1058.0 L1335.5,1059.6 L1338.5,1061.2 L1341.5,1062.8 L1344.5,1064.4 L1347.5,1065.9 L1350.5,1067.4 L1353.5,1068.9 L1356.5,1070.4 L1359.5,1071.9 L1362.5,1073.4 L1365.5,1074.8 L1368.5,1076.3 L1371.5,1077.7 L1374.5,1079.1 L1377.5,1080.5 L1380.5,1081.8 L1383.5,1083.2 L1386.5,1084.5 L1389.5,1085.9 L1392.5,1087.2 L1395.5,1088.5 L1398.5,1089.8 L1401.5,1091.0 L1404.5,1092.3 L1407.5,1093.5 L1410.5,1094.8 L1413.5,1096.0 L1416.5,1097.2 L1419.5,1098.4 L1422.5,1099.6 L1425.5,1100.7 L1428.5,1101.9 L1431.5,1103.0 L1434.5,1104.2 L1437.5,1105.3 L1440.5,1106.4 L1443.5,1107.5 L1446.5,1108.6 L1449.5,1109.6 L1452.5,1110.7 L1455.5,1111.7 L1458.5,1112.8 L1461.5,1113.8 L1464.5,1114.8 L1467.5,1115.8 L1470.5,1116.8 L1473.5,1117.8 L1476.5,1118.8 L1479.5,1119.7 L1482.5,1120.7 L1485.5,1121.6 L1488.5,1122.6 L1491.5,1123.5 L1494.5,1124.4 L1497.5,1125.3 L1500.5,1126.2 L1503.5,1127.1 L1506.5,1128.0 L1509.5,1128.9 L1512.5,1129.7 L1515.5,1130.6 L1518.5,1131.4 L1521.5,1132.3 L1524.5,1133.1 L1527.5,1133.9 L1530.5,1134.7 L1533.5,1135.5 L1536.5,1136.3 L1539.5,1137.1 L1542.5,1137.9 L1545.5,1138.7 L1548.5,1139.5 L1551.5,1140.2 L1554.5,1141.0 L1557.5,1141.8 L1560.5,1142.5 L1563.5,1143.3 L1566.5,1144.0 L1569.5,1144.7 L1572.5,1145.4 L1575.5,1146.2 L1578.5,1146.9 L1581.5,1147.6 L1584.5,1148.3 L1587.5,1149.0 L1590.5,1149.7 L1593.5,1150.4 L1596.5,1151.1 L1599.5,1151.7 L1602.5,1152.4 L1605.5,1153.1 L1608.5,1153.8 L1611.5,1154.4 L1614.5,1155.1 L1617.5,1155.7 L1620.5,1156.4 L1623.5,1157.0 L1626.5,1157.7 L1629.5,1158.3 L1632.5,1158.9 L1635.5,1159.6 L1638.5,1160.2 L1641.5,1160.8 L1644.5,1161.5 L1647.5,1162.1 L1650.5,1162.7 L1653.5,1163.3 L1656.5,1163.9 L1659.5,1164.5 L1662.5,1165.1 L1665.5,1165.7 L1668.5,1166.3 L1671.5,1166.9 L1674.5,1167.4 L1677.5,1168.0 L1680.5,1168.6 L1683.5,1169.2 L1686.5,1169.7 L1689.5,1170.3 L1692.5,1170.9 L1695.5,1171.4 L1698.5,1172.0 L1701.5,1172.5 L1704.5,1173.1 L1707.5,1173.6 L1710.5,1174.1 L1713.5,1174.7 L1716.5,1175.2 L1719.5,1175.8 L1722.5,1176.3 L1725.5,1176.8 L1728.5,1177.3 L1731.5,1177.8 L1734.5,1178.4 L1737.5,1178.9 L1740.5,1179.4 L1743.5,1179.9 L1746.5,1180.4 L1749.5,1180.9 L1752.5,1181.4 L1755.5,1181.9 L1758.5,1182.4 L1761.5,1182.8 L1764.5,1183.3 L1767.5,1183.8 L1770.5,1184.3 L1773.5,1184.8 L1776.5,1185.2 L1779.5,1185.7 L1782.5,1186.2 L1785.5,1186.6 L1788.5,1187.1 L1791.5,1187.6 L1794.5,1188.0 L1797.5,1188.5 L1800.5,1188.9 L1803.5,1189.4 L1806.5,1189.8 L1809.5,1190.3 L1812.5,1190.7 L1815.5,1191.1 L1818.5,1191.6 L1821.5,1192.0 L1824.5,1192.4 L1827.5,1192.9 L1830.5,1193.3 L1833.5,1193.7 L1836.5,1194.1 L1839.5,1194.6 L1842.5,1195.0 L1845.5,1195.4 L1848.5,1195.8 L1851.5,1196.2 L1854.5,1196.6 L1857.5,1197.0 L1860.5,1197.4 L1863.5,1197.8 L1866.5,1198.2 L1869.5,1198.6 L1872.5,1199.0 L1875.5,1199.4 L1878.5,1199.8 L1881.5,1200.2 L1884.5,1200.6 L1887.5,1201.0 L1890.5,1201.4 L1893.5,1201.8 L1896.5,1202.1 L1899.5,1202.5 L1902.5,1202.9 L1905.5,1203.3 L1908.5,1203.6 L1911.5,1204.0 L1914.5,1204.4 L1917.5,1204.8 L1920.5,1205.1 L1923.5,1205.5 L1926.5,1205.9 L1929.5,1206.2 L1932.5,1206.6 L1935.5,1206.9 L1938.5,1207.3 L1941.5,1207.7 L1944.5,1208.0 L1947.5,1208.4 L1950.5,1208.7 L1953.5,1209.1 L1956.5,1209.4 L1959.5,1209.8 L1962.5,1210.1 L1965.5,1210.5 L1968.5,1210.8 L1971.5,1211.2 L1974.5,1211.5 L1977.5,1211.8 L1980.5,1212.2 L1983.5,1212.5 L1986.5,1212.9 L1989.5,1213.2 L1992.5,1213.5 L1995.5,1213.9 L1998.5,1214.2 L2001.5,1214.5 L2004.5,1214.9 L2007.5,1215.2 L2010.5,1215.5 L2012.0,1215.7" stroke="#0000FF" stroke-width="17"/>
<path d="M444.5,875.8 L447.5,881.6 L450.5,887.3 L453.5,893.1 L456.5,898.8 L459.5,904.5 L462.5,910.2 L465.5,915.8 L468.5,921.3 L471.5,926.7 L474.5,932.1 L477.5,937.3 L480.5,942.3 L483.5,947.3 L486.5,952.0 L489.5,956.6 L492.5,961.1 L495.5,965.3 L498.5,969.3 L501.5,973.0 L504.5,976.6 L507.5,979.8 L510.5,982.8 L513.5,985.6 L516.5,988.0 L519.5,990.1 L522.5,991.9 L525.5,993.3 L528.5,994.4 L531.5,995.1 L534.5,995.4 L537.5,995.4 L540.5,995.0 L543.5,994.2 L546.5,993.0 L549.5,991.5 L552.5,989.7 L555.5,987.6 L558.5,985.2 L561.5,982.5 L564.5,979.6 L567.5,976.4 L570.5,973.0 L573.5,969.3 L576.5,965.5 L579.5,961.5 L582.5,957.3 L585.5,952.9 L588.5,948.4 L591.5,943.7 L594.5,938.9 L597.5,934.0 L600.5,928.9 L603.5,923.7 L606.5,918.4 L609.5,913.0 L612.5,907.5 L615.5,902.0 L618.5,896.3 L621.5,890.6 L624.5,884.8 L627.5,879.0 L630.5,873.1 L633.5,867.1 L636.5,861.1 L639.5,855.0 L642.5,848.9 L645.5,842.7 L648.5,836.5 L651.5,830.2 L654.5,823.9 L657.5,817.5 L660.5,811.1 L663.5,804.7 L666.5,798.2 L669.5,791.7 L672.5,785.2 L675.5,778.6 L678.5,772.0 L681.5,765.5 L684.5,758.9 L687.5,752.3 L690.5,745.8 L693.5,739.3 L696.5,732.8 L699.5,726.4 L702.5,720.0 L705.5,713.6 L708.5,707.3 L711.5,701.1 L714.5,695.0 L717.5,688.9 L720.5,682.9 L723.5,677.1 L726.5,671.3 L729.5,665.6 L732.5,660.1 L735.5,654.7 L738.5,649.4 L741.5,644.2 L744.5,639.2 L747.5,634.4 L750.5,629.7 L753.5,625.2 L756.5,620.8 L759.5,616.5 L762.5,612.4 L765.5,608.5 L768.5,604.7 L771.5,601.1 L774.5,597.6 L777.5,594.3 L780.5,591.1 L783.5,588.1 L786.5,585.2 L789.5,582.4 L792.5,579.9 L795.5,577.4 L798.5,575.2 L801.5,573.1 L804.5,571.1 L807.5,569.3 L810.5,567.6 L813.5,566.1 L816.5,564.7 L819.5,563.5 L822.5,562.4 L825.5,561.5 L828.5,560.7 L831.5,560.1 L834.5,559.6 L837.5,559.3 L840.5,559.2 L843.5,559.1 L846.5,559.3 L849.5,559.6 L852.5,560.0 L855.5,560.6 L858.5,561.3 L861.5,562.2 L864.5,563.2 L867.5,564.4 L870.5,565.7 L873.5,567.2 L876.5,568.8 L879.5,570.6 L882.5,572.6 L885.5,574.6 L888.5,576.9 L891.5,579.2 L894.5,581.8 L897.5,584.4 L900.5,587.3 L903.5,590.2 L906.5,593.3 L909.5,596.5 L912.5,599.9 L915.5,603.3 L918.5,606.9 L921.5,610.6 L924.5,614.3 L927.5,618.2 L930.5,622.1 L933.5,626.1 L936.5,630.2 L939.5,634.4 L942.5,638.5 L945.5,642.8 L948.5,647.1 L951.5,651.4 L954.5,655.8 L957.5,660.2 L960.5,664.6 L963.5,669.0 L966.5,673.5 L969.5,677.9 L972.5,682.4 L975.5,686.9 L978.5,691.4 L981.5,695.9 L984.5,700.5 L987.5,705.0 L990.5,709.5 L993.5,714.0 L996.5,718.5 L999.5,723.0 L1002.5,727.4 L1005.5,731.9 L1008.5,736.3 L1011.5,740.7 L1014.5,745.1 L1017.5,749.5 L1020.5,753.8 L1023.5,758.1 L1026.5,762.4 L1029.5,766.6 L1032.5,770.7 L1035.5,774.9 L1038.5,778.9 L1041.5,782.9 L1044.5,786.9 L1047.5,790.8 L1050.5,794.7 L1053.5,798.5 L1056.5,802.3 L1059.5,806.1 L1062.5,809.8 L1065.5,813.5 L1068.5,817.1 L1071.5,820.7 L1074.5,824.3 L1077.5,827.9 L1080.5,831.4 L1083.5,834.9 L1086.5,838.4 L1089.5,841.8 L1092.5,845.3 L1095.5,848.7 L1098.5,852.1 L1101.5,855.6 L1104.5,859.0 L1107.5,862.3 L1110.5,865.7 L1113.5,869.1 L1116.5,872.5 L1119.5,875.9 L1122.5,879.3 L1125.5,882.7 L1128.5,886.1 L1131.5,889.5 L1134.5,892.9 L1137.5,896.3 L1140.5,899.7 L1143.5,903.0 L1146.5,906.4 L1149.5,909.7 L1152.5,913.1 L1155.5,916.4 L1158.5,919.6 L1161.5,922.9 L1164.5,926.1 L1167.5,929.3 L1170.5,932.4 L1173.5,935.5 L1176.5,938.5 L1179.5,941.6 L1182.5,944.5 L1185.5,947.5 L1188.5,950.4 L1191.5,953.2 L1194.5,956.1 L1197.5,958.8 L1200.5,961.6 L1203.5,964.3 L1206.5,967.0 L1209.5,969.6 L1212.5,972.3 L1215.5,974.8 L1218.5,977.4 L1221.5,979.9 L1224.5,982.4 L1227.5,984.8 L1230.5,987.3 L1233.5,989.6 L1236.5,992.0 L1239.5,994.3 L1242.5,996.6 L1245.5,998.9 L1248.5,1001.2 L1251.5,1003.4 L1254.5,1005.6 L1257.5,1007.7 L1260.5,1009.9 L1263.5,1012.0 L1266.5,1014.1 L1269.5,1016.1 L1272.5,1018.2 L1275.5,1020.2 L1278.5,1022.2 L1281.5,1024.2 L1284.5,1026.1 L1287.5,1028.0 L1290.5,1029.9 L1293.5,1031.8 L1296.5,1033.7 L1299.5,1035.5 L1302.5,1037.4 L1305.5,1039.2 L1308.5,1041.0 L1311.5,1042.7 L1314.5,1044.5 L1317.5,1046.2 L1320.5,1048.0 L1323.5,1049.7 L1326.5,1051.3 L1329.5,1053.0 L1332.5,1054.7 L1335.5,1056.3 L1338.5,1057.9 L1341.5,1059.5 L1344.5,1061.1 L1347.5,1062.6 L1350.5,1064.2 L1353.5,1065.7 L1356.5,1067.2 L1359.5,1068.7 L1362.5,1070.2 L1365.5,1071.7 L1368.5,1073.1 L1371.5,1074.6 L1374.5,1076.0 L1377.5,1077.4 L1380.5,1078.8 L1383.5,1080.2 L1386.5,1081.5 L1389.5,1082.9 L1392.5,1084.2 L1395.5,1085.5 L1398.5,1086.9 L1401.5,1088.1 L1404.5,1089.4 L1407.5,1090.7 L1410.5,1091.9 L1413.5,1093.2 L1416.5,1094.4 L1419.5,1095.6 L1422.5,1096.8 L1425.5,1098.0 L1428.5,1099.2 L1431.5,1100.3 L1434.5,1101.5 L1437.5,1102.6 L1440.5,1103.7 L1443.5,1104.8 L1446.5,1105.9 L1449.5,1107.0 L1452.5,1108.1 L1455.5,1109.1 L1458.5,1110.2 L1461.5,1111.2 L1464.5,1112.3 L1467.5,1113.3 L1470.5,1114.3 L1473.5,1115.3 L1476.5,1116.3 L1479.5,1117.3 L1482.5,1118.2 L1485.5,1119.2 L1488.5,1120.1 L1491.5,1121.1 L1494.5,1122.0 L1497.5,1122.9 L1500.5,1123.8 L1503.5,1124.7 L1506.5,1125.6 L1509.5,1126.5 L1512.5,1127.4 L1515.5,1128.2 L1518.5,1129.1 L1521.5,1130.0 L1524.5,1130.8 L1527.5,1131.6 L1530.5,1132.5 L1533.5,1133.3 L1536.5,1134.1 L1539.5,1134.9 L1542.5,1135.7 L1545.5,1136.5 L1548.5,1137.2 L1551.5,1138.0 L1554.5,1138.8 L1557.5,1139.6 L1560.5,1140.3 L1563.5,1141.1 L1566.5,1141.8 L1569.5,1142.5 L1572.5,1143.3 L1575.5,1144.0 L1578.5,1144.7 L1581.5,1145.4 L1584.5,1146.1 L1587.5,1146.9 L1590.5,1147.6 L1593.5,1148.2 L1596.5,1148.9 L1599.5,1149.6 L1602.5,1150.3 L1605.5,1151.0 L1608.5,1151.7 L1611.5,1152.3 L1614.5,1153.0 L1617.5,1153.7 L1620.5,1154.3 L1623.5,1155.0 L1626.5,1155.6 L1629.5,1156.3 L1632.5,1156.9 L1635.5,1157.5 L1638.5,1158.2 L1641.5,1158.8 L1644.5,1159.4 L1647.5,1160.0 L1650.5,1160.7 L1653.5,1161.3 L1656.5,1161.9 L1659.5,1162.5 L1662.5,1163.1 L1665.5,1163.7 L1668.5,1164.3 L1671.5,1164.9 L1674.5,1165.5 L1677.5,1166.0 L1680.5,1166.6 L1683.5,1167.2 L1686.5,1167.8 L1689.5,1168.3 L1692.5,1168.9 L1695.5,1169.5 L1698.5,1170.0 L1701.5,1170.6 L1704.5,1171.1 L1707.5,1171.7 L1710.5,1172.2 L1713.5,1172.8 L1716.5,1173.3 L1719.5,1173.8 L1722.5,1174.4 L1725.5,1174.9 L1728.5,1175.4 L1731.5,1175.9 L1734.5,1176.5 L1737.5,1177.0 L1740.5,1177.5 L1743.5,1178.0 L1746.5,1178.5 L1749.5,1179.0 L1752.5,1179.5 L1755.5,1180.0 L1758.5,1180.5 L1761.5,1181.0 L1764.5,1181.5 L1767.5,1182.0 L1770.5,1182.5 L1773.5,1182.9 L1776.5,1183.4 L1779.5,1183.9 L1782.5,1184.4 L1785.5,1184.8 L1788.5,1185.3 L1791.5,1185.7 L1794.5,1186.2 L1797.5,1186.7 L1800.5,1187.1 L1803.5,1187.6 L1806.5,1188.0 L1809.5,1188.5 L1812.5,1188.9 L1815.5,1189.4 L1818.5,1189.8 L1821.5,1190.2 L1824.5,1190.7 L1827.5,1191.1 L1830.5,1191.5 L1833.5,1192.0 L1836.5,1192.4 L1839.5,1192.8 L1842.5,1193.2 L1845.5,1193.6 L1848.5,1194.1 L1851.5,1194.5 L1854.5,1194.9 L1857.5,1195.3 L1860.5,1195.7 L1863.5,1196.1 L1866.5,1196.5 L1869.5,1196.9 L1872.5,1197.3 L1875.5,1197.7 L1878.5,1198.1 L1881.5,1198.5 L1884.5,1198.9 L1887.5,1199.3 L1890.5,1199.7 L1893.5,1200.0 L1896.5,1200.4 L1899.5,1200.8 L1902.5,1201.2 L1905.5,1201.6 L1908.5,1201.9 L1911.5,1202.3 L1914.5,1202.7 L1917.5,1203.1 L1920.5,1203.4 L1923.5,1203.8 L1926.5,1204.2 L1929.5,1204.5 L1932.5,1204.9 L1935.5,1205.3 L1938.5,1205.6 L1941.5,1206.0 L1944.5,1206.3 L1947.5,1206.7 L1950.5,1207.1 L1953.5,1207.4 L1956.5,1207.8 L1959.5,1208.1 L1962.5,1208.5 L1965.5,1208.8 L1968.5,1209.2 L1971.5,1209.5 L1974.5,1209.8 L1977.5,1210.2 L1980.5,1210.5 L1983.5,1210.9 L1986.5,1211.2 L1989.5,1211.6 L1992.5,1211.9 L1995.5,1212.2 L1998.5,1212.6 L2001.5,1212.9 L2004.5,1213.2 L2007.5,1213.6 L2010.5,1213.9 L2012.0,1214.1" stroke="#FF8000" stroke-width="17"/>
<path d="M444.5,871.3 L447.5,876.3 L450.5,881.4 L453.5,886.6 L456.5,891.8 L459.5,897.0 L462.5,902.3 L465.5,907.5 L468.5,912.8 L471.5,918.0 L474.5,923.2 L477.5,928.3 L480.5,933.4 L483.5,938.4 L486.5,943.3 L489.5,948.1 L492.5,952.8 L495.5,957.4 L498.5,961.8 L501.5,966.1 L504.5,970.3 L507.5,974.2 L510.5,978.0 L513.5,981.5 L516.5,984.8 L519.5,987.8 L522.5,990.5 L525.5,992.8 L528.5,994.8 L531.5,996.4 L534.5,997.5 L537.5,998.2 L540.5,998.4 L543.5,998.2 L546.5,997.5 L549.5,996.4 L552.5,994.9 L555.5,993.0 L558.5,990.9 L561.5,988.4 L564.5,985.6 L567.5,982.5 L570.5,979.2 L573.5,975.7 L576.5,972.1 L579.5,968.2 L582.5,964.3 L585.5,960.2 L588.5,956.0 L591.5,951.8 L594.5,947.5 L597.5,943.0 L600.5,938.5 L603.5,933.9 L606.5,929.2 L609.5,924.4 L612.5,919.5 L615.5,914.5 L618.5,909.5 L621.5,904.3 L624.5,899.1 L627.5,893.8 L630.5,888.4 L633.5,882.9 L636.5,877.3 L639.5,871.6 L642.5,865.9 L645.5,860.1 L648.5,854.3 L651.5,848.4 L654.5,842.4 L657.5,836.4 L660.5,830.3 L663.5,824.2 L666.5,818.0 L669.5,811.8 L672.5,805.6 L675.5,799.3 L678.5,793.0 L681.5,786.7 L684.5,780.3 L687.5,774.0 L690.5,767.6 L693.5,761.3 L696.5,754.9 L699.5,748.6 L702.5,742.2 L705.5,735.9 L708.5,729.6 L711.5,723.4 L714.5,717.1 L717.5,711.0 L720.5,704.8 L723.5,698.8 L726.5,692.7 L729.5,686.8 L732.5,680.9 L735.5,675.1 L738.5,669.4 L741.5,663.7 L744.5,658.2 L747.5,652.7 L750.5,647.4 L753.5,642.1 L756.5,637.0 L759.5,631.9 L762.5,627.0 L765.5,622.2 L768.5,617.6 L771.5,613.1 L774.5,608.7 L777.5,604.4 L780.5,600.3 L783.5,596.4 L786.5,592.6 L789.5,589.0 L792.5,585.5 L795.5,582.2 L798.5,579.0 L801.5,576.0 L804.5,573.2 L807.5,570.5 L810.5,567.9 L813.5,565.5 L816.5,563.3 L819.5,561.2 L822.5,559.2 L825.5,557.4 L828.5,555.8 L831.5,554.3 L834.5,553.0 L837.5,551.8 L840.5,550.7 L843.5,549.9 L846.5,549.1 L849.5,548.5 L852.5,548.1 L855.5,547.8 L858.5,547.7 L861.5,547.7 L864.5,547.9 L867.5,548.2 L870.5,548.7 L873.5,549.3 L876.5,550.1 L879.5,551.0 L882.5,552.0 L885.5,553.2 L888.5,554.6 L891.5,556.1 L894.5,557.8 L897.5,559.6 L900.5,561.5 L903.5,563.6 L906.5,565.8 L909.5,568.1 L912.5,570.6 L915.5,573.2 L918.5,575.8 L921.5,578.6 L924.5,581.5 L927.5,584.4 L930.5,587.4 L933.5,590.5 L936.5,593.7 L939.5,596.9 L942.5,600.3 L945.5,603.6 L948.5,607.1 L951.5,610.6 L954.5,614.2 L957.5,617.9 L960.5,621.6 L963.5,625.4 L966.5,629.3 L969.5,633.2 L972.5,637.2 L975.5,641.2 L978.5,645.3 L981.5,649.5 L984.5,653.7 L987.5,658.0 L990.5,662.3 L993.5,666.6 L996.5,671.1 L999.5,675.5 L1002.5,680.0 L1005.5,684.6 L1008.5,689.2 L1011.5,693.9 L1014.5,698.6 L1017.5,703.3 L1020.5,708.1 L1023.5,712.9 L1026.5,717.7 L1029.5,722.5 L1032.5,727.3 L1035.5,732.2 L1038.5,737.0 L1041.5,741.7 L1044.5,746.5 L1047.5,751.2 L1050.5,755.8 L1053.5,760.4 L1056.5,765.0 L1059.5,769.4 L1062.5,773.8 L1065.5,778.1 L1068.5,782.3 L1071.5,786.4 L1074.5,790.3 L1077.5,794.2 L1080.5,798.1 L1083.5,801.8 L1086.5,805.5 L1089.5,809.1 L1092.5,812.7 L1095.5,816.2 L1098.5,819.7 L1101.5,823.2 L1104.5,826.6 L1107.5,830.1 L1110.5,833.5 L1113.5,836.9 L1116.5,840.4 L1119.5,843.8 L1122.5,847.2 L1125.5,850.7 L1128.5,854.1 L1131.5,857.5 L1134.5,860.9 L1137.5,864.4 L1140.5,867.8 L1143.5,871.2 L1146.5,874.7 L1149.5,878.1 L1152.5,881.6 L1155.5,885.0 L1158.5,888.5 L1161.5,891.9 L1164.5,895.4 L1167.5,898.8 L1170.5,902.3 L1173.5,905.7 L1176.5,909.1 L1179.5,912.4 L1182.5,915.8 L1185.5,919.1 L1188.5,922.4 L1191.5,925.6 L1194.5,928.8 L1197.5,932.0 L1200.5,935.1 L1203.5,938.1 L1206.5,941.2 L1209.5,944.1 L1212.5,947.1 L1215.5,950.0 L1218.5,952.8 L1221.5,955.6 L1224.5,958.4 L1227.5,961.1 L1230.5,963.8 L1233.5,966.5 L1236.5,969.1 L1239.5,971.7 L1242.5,974.2 L1245.5,976.7 L1248.5,979.2 L1251.5,981.7 L1254.5,984.1 L1257.5,986.4 L1260.5,988.8 L1263.5,991.1 L1266.5,993.4 L1269.5,995.7 L1272.5,997.9 L1275.5,1000.1 L1278.5,1002.3 L1281.5,1004.5 L1284.5,1006.6 L1287.5,1008.7 L1290.5,1010.8 L1293.5,1012.8 L1296.5,1014.9 L1299.5,1016.9 L1302.5,1018.9 L1305.5,1020.9 L1308.5,1022.8 L1311.5,1024.8 L1314.5,1026.7 L1317.5,1028.6 L1320.5,1030.5 L1323.5,1032.3 L1326.5,1034.2 L1329.5,1036.0 L1332.5,1037.8 L1335.5,1039.6 L1338.5,1041.3 L1341.5,1043.1 L1344.5,1044.8 L1347.5,1046.5 L1350.5,1048.2 L1353.5,1049.9 L1356.5,1051.6 L1359.5,1053.2 L1362.5,1054.8 L1365.5,1056.4 L1368.5,1058.0 L1371.5,1059.6 L1374.5,1061.1 L1377.5,1062.7 L1380.5,1064.2 L1383.5,1065.7 L1386.5,1067.2 L1389.5,1068.7 L1392.5,1070.1 L1395.5,1071.6 L1398.5,1073.0 L1401.5,1074.4 L1404.5,1075.8 L1407.5,1077.2 L1410.5,1078.5 L1413.5,1079.9 L1416.5,1081.2 L1419.5,1082.5 L1422.5,1083.8 L1425.5,1085.1 L1428.5,1086.4 L1431.5,1087.7 L1434.5,1088.9 L1437.5,1090.1 L1440.5,1091.4 L1443.5,1092.6 L1446.5,1093.8 L1449.5,1095.0 L1452.5,1096.1 L1455.5,1097.3 L1458.5,1098.4 L1461.5,1099.6 L1464.5,1100.7 L1467.5,1101.8 L1470.5,1102.9 L1473.5,1104.0 L1476.5,1105.0 L1479.5,1106.1 L1482.5,1107.1 L1485.5,1108.2 L1488.5,1109.2 L1491.5,1110.2 L1494.5,1111.2 L1497.5,1112.2 L1500.5,1113.2 L1503.5,1114.2 L1506.5,1115.1 L1509.5,1116.1 L1512.5,1117.0 L1515.5,1118.0 L1518.5,1118.9 L1521.5,1119.8 L1524.5,1120.7 L1527.5,1121.6 L1530.5,1122.5 L1533.5,1123.4 L1536.5,1124.2 L1539.5,1125.1 L1542.5,1125.9 L1545.5,1126.8 L1548.5,1127.6 L1551.5,1128.4 L1554.5,1129.3 L1557.5,1130.1 L1560.5,1130.9 L1563.5,1131.7 L1566.5,1132.5 L1569.5,1133.2 L1572.5,1134.0 L1575.5,1134.8 L1578.5,1135.5 L1581.5,1136.3 L1584.5,1137.0 L1587.5,1137.8 L1590.5,1138.5 L1593.5,1139.2 L1596.5,1140.0 L1599.5,1140.7 L1602.5,1141.4 L1605.5,1142.1 L1608.5,1142.8 L1611.5,1143.5 L1614.5,1144.2 L1617.5,1144.9 L1620.5,1145.6 L1623.5,1146.2 L1626.5,1146.9 L1629.5,1147.6 L1632.5,1148.3 L1635.5,1148.9 L1638.5,1149.6 L1641.5,1150.2 L1644.5,1150.9 L1647.5,1151.5 L1650.5,1152.2 L1653.5,1152.8 L1656.5,1153.4 L1659.5,1154.1 L1662.5,1154.7 L1665.5,1155.3 L1668.5,1156.0 L1671.5,1156.6 L1674.5,1157.2 L1677.5,1157.8 L1680.5,1158.4 L1683.5,1159.0 L1686.5,1159.6 L1689.5,1160.2 L1692.5,1160.8 L1695.5,1161.4 L1698.5,1162.0 L1701.5,1162.6 L1704.5,1163.2 L1707.5,1163.8 L1710.5,1164.3 L1713.5,1164.9 L1716.5,1165.5 L1719.5,1166.1 L1722.5,1166.6 L1725.5,1167.2 L1728.5,1167.7 L1731.5,1168.3 L1734.5,1168.9 L1737.5,1169.4 L1740.5,1169.9 L1743.5,1170.5 L1746.5,1171.0 L1749.5,1171.6 L1752.5,1172.1 L1755.5,1172.6 L1758.5,1173.2 L1761.5,1173.7 L1764.5,1174.2 L1767.5,1174.7 L1770.5,1175.3 L1773.5,1175.8 L1776.5,1176.3 L1779.5,1176.8 L1782.5,1177.3 L1785.5,1177.8 L1788.5,1178.3 L1791.5,1178.8 L1794.5,1179.3 L1797.5,1179.8 L1800.5,1180.3 L1803.5,1180.8 L1806.5,1181.3 L1809.5,1181.8 L1812.5,1182.3 L1815.5,1182.7 L1818.5,1183.2 L1821.5,1183.7 L1824.5,1184.2 L1827.5,1184.6 L1830.5,1185.1 L1833.5,1185.6 L1836.5,1186.0 L1839.5,1186.5 L1842.5,1186.9 L1845.5,1187.4 L1848.5,1187.9 L1851.5,1188.3 L1854.5,1188.8 L1857.5,1189.2 L1860.5,1189.6 L1863.5,1190.1 L1866.5,1190.5 L1869.5,1191.0 L1872.5,1191.4 L1875.5,1191.8 L1878.5,1192.3 L1881.5,1192.7 L1884.5,1193.1 L1887.5,1193.5 L1890.5,1194.0 L1893.5,1194.4 L1896.5,1194.8 L1899.5,1195.2 L1902.5,1195.6 L1905.5,1196.0 L1908.5,1196.5 L1911.5,1196.9 L1914.5,1197.3 L1917.5,1197.7 L1920.5,1198.1 L1923.5,1198.5 L1926.5,1198.9 L1929.5,1199.3 L1932.5,1199.7 L1935.5,1200.1 L1938.5,1200.5 L1941.5,1200.8 L1944.5,1201.2 L1947.5,1201.6 L1950.5,1202.0 L1953.5,1202.4 L1956.5,1202.8 L1959.5,1203.2 L1962.5,1203.5 L1965.5,1203.9 L1968.5,1204.3 L1971.5,1204.7 L1974.5,1205.0 L1977.5,1205.4 L1980.5,1205.8 L1983.5,1206.1 L1986.5,1206.5 L1989.5,1206.9 L1992.5,1207.2 L1995.5,1207.6 L1998.5,1207.9 L2001.5,1208.3 L2004.5,1208.7 L2007.5,1209.0 L2010.5,1209.4 L2012.0,1209.5" stroke="#646464" stroke-width="17"/>
<path d="M444.5,865.4 L447.5,871.1 L450.5,876.9 L453.5,882.5 L456.5,888.1 L459.5,893.7 L462.5,899.2 L465.5,904.6 L468.5,910.0 L471.5,915.3 L474.5,920.5 L477.5,925.7 L480.5,930.8 L483.5,935.8 L486.5,940.8 L489.5,945.7 L492.5,950.5 L495.5,955.2 L498.5,959.7 L501.5,964.2 L504.5,968.4 L507.5,972.6 L510.5,976.5 L513.5,980.2 L516.5,983.6 L519.5,986.8 L522.5,989.8 L525.5,992.4 L528.5,994.8 L531.5,996.8 L534.5,998.5 L537.5,999.9 L540.5,1000.9 L543.5,1001.5 L546.5,1001.7 L549.5,1001.5 L552.5,1001.0 L555.5,1000.1 L558.5,998.9 L561.5,997.4 L564.5,995.6 L567.5,993.6 L570.5,991.3 L573.5,988.8 L576.5,986.2 L579.5,983.4 L582.5,980.4 L585.5,977.2 L588.5,973.9 L591.5,970.5 L594.5,967.0 L597.5,963.3 L600.5,959.6 L603.5,955.8 L606.5,951.9 L609.5,948.0 L612.5,943.9 L615.5,939.8 L618.5,935.6 L621.5,931.4 L624.5,927.0 L627.5,922.6 L630.5,918.1 L633.5,913.5 L636.5,908.9 L639.5,904.2 L642.5,899.4 L645.5,894.5 L648.5,889.5 L651.5,884.5 L654.5,879.4 L657.5,874.2 L660.5,869.0 L663.5,863.6 L666.5,858.2 L669.5,852.7 L672.5,847.2 L675.5,841.6 L678.5,835.9 L681.5,830.2 L684.5,824.5 L687.5,818.7 L690.5,812.8 L693.5,806.9 L696.5,801.0 L699.5,795.1 L702.5,789.2 L705.5,783.2 L708.5,777.2 L711.5,771.2 L714.5,765.2 L717.5,759.3 L720.5,753.3 L723.5,747.3 L726.5,741.3 L729.5,735.4 L732.5,729.5 L735.5,723.6 L738.5,717.7 L741.5,711.9 L744.5,706.1 L747.5,700.3 L750.5,694.6 L753.5,689.0 L756.5,683.3 L759.5,677.8 L762.5,672.2 L765.5,666.8 L768.5,661.4 L771.5,656.0 L774.5,650.7 L777.5,645.5 L780.5,640.3 L783.5,635.2 L786.5,630.2 L789.5,625.3 L792.5,620.4 L795.5,615.6 L798.5,610.9 L801.5,606.2 L804.5,601.7 L807.5,597.2 L810.5,592.9 L813.5,588.6 L816.5,584.4 L819.5,580.3 L822.5,576.4 L825.5,572.5 L828.5,568.7 L831.5,565.0 L834.5,561.5 L837.5,558.0 L840.5,554.7 L843.5,551.5 L846.5,548.4 L849.5,545.4 L852.5,542.6 L855.5,539.9 L858.5,537.3 L861.5,534.8 L864.5,532.5 L867.5,530.3 L870.5,528.3 L873.5,526.4 L876.5,524.6 L879.5,523.0 L882.5,521.5 L885.5,520.2 L888.5,519.1 L891.5,518.1 L894.5,517.2 L897.5,516.5 L900.5,516.0 L903.5,515.7 L906.5,515.5 L909.5,515.5 L912.5,515.6 L915.5,515.9 L918.5,516.4 L921.5,517.0 L924.5,517.7 L927.5,518.6 L930.5,519.7 L933.5,520.9 L936.5,522.2 L939.5,523.7 L942.5,525.3 L945.5,527.0 L948.5,528.9 L951.5,530.9 L954.5,533.0 L957.5,535.2 L960.5,537.5 L963.5,539.9 L966.5,542.5 L969.5,545.2 L972.5,547.9 L975.5,550.8 L978.5,553.7 L981.5,556.8 L984.5,559.9 L987.5,563.2 L990.5,566.5 L993.5,569.9 L996.5,573.4 L999.5,576.9 L1002.5,580.5 L1005.5,584.2 L1008.5,588.0 L1011.5,591.8 L1014.5,595.7 L1017.5,599.7 L1020.5,603.7 L1023.5,607.7 L1026.5,611.8 L1029.5,616.0 L1032.5,620.2 L1035.5,624.4 L1038.5,628.7 L1041.5,633.0 L1044.5,637.3 L1047.5,641.7 L1050.5,646.1 L1053.5,650.5 L1056.5,655.0 L1059.5,659.4 L1062.5,663.9 L1065.5,668.4 L1068.5,672.9 L1071.5,677.4 L1074.5,681.8 L1077.5,686.3 L1080.5,690.8 L1083.5,695.3 L1086.5,699.8 L1089.5,704.3 L1092.5,708.7 L1095.5,713.2 L1098.5,717.6 L1101.5,722.0 L1104.5,726.4 L1107.5,730.8 L1110.5,735.2 L1113.5,739.5 L1116.5,743.8 L1119.5,748.2 L1122.5,752.5 L1125.5,756.7 L1128.5,761.0 L1131.5,765.2 L1134.5,769.5 L1137.5,773.7 L1140.5,777.8 L1143.5,782.0 L1146.5,786.1 L1149.5,790.2 L1152.5,794.3 L1155.5,798.4 L1158.5,802.4 L1161.5,806.5 L1164.5,810.4 L1167.5,814.4 L1170.5,818.3 L1173.5,822.2 L1176.5,826.1 L1179.5,830.0 L1182.5,833.8 L1185.5,837.6 L1188.5,841.3 L1191.5,845.0 L1194.5,848.7 L1197.5,852.4 L1200.5,856.0 L1203.5,859.6 L1206.5,863.2 L1209.5,866.7 L1212.5,870.2 L1215.5,873.6 L1218.5,877.1 L1221.5,880.4 L1224.5,883.8 L1227.5,887.1 L1230.5,890.3 L1233.5,893.6 L1236.5,896.8 L1239.5,899.9 L1242.5,903.0 L1245.5,906.1 L1248.5,909.2 L1251.5,912.2 L1254.5,915.2 L1257.5,918.1 L1260.5,921.0 L1263.5,923.9 L1266.5,926.8 L1269.5,929.6 L1272.5,932.4 L1275.5,935.1 L1278.5,937.8 L1281.5,940.5 L1284.5,943.2 L1287.5,945.8 L1290.5,948.4 L1293.5,951.0 L1296.5,953.5 L1299.5,956.0 L1302.5,958.5 L1305.5,961.0 L1308.5,963.4 L1311.5,965.8 L1314.5,968.2 L1317.5,970.5 L1320.5,972.8 L1323.5,975.1 L1326.5,977.4 L1329.5,979.6 L1332.5,981.8 L1335.5,984.0 L1338.5,986.1 L1341.5,988.3 L1344.5,990.4 L1347.5,992.5 L1350.5,994.5 L1353.5,996.6 L1356.5,998.6 L1359.5,1000.6 L1362.5,1002.6 L1365.5,1004.5 L1368.5,1006.5 L1371.5,1008.4 L1374.5,1010.3 L1377.5,1012.1 L1380.5,1014.0 L1383.5,1015.8 L1386.5,1017.6 L1389.5,1019.4 L1392.5,1021.2 L1395.5,1022.9 L1398.5,1024.7 L1401.5,1026.4 L1404.5,1028.1 L1407.5,1029.8 L1410.5,1031.4 L1413.5,1033.1 L1416.5,1034.7 L1419.5,1036.3 L1422.5,1038.0 L1425.5,1039.5 L1428.5,1041.1 L1431.5,1042.7 L1434.5,1044.2 L1437.5,1045.7 L1440.5,1047.2 L1443.5,1048.7 L1446.5,1050.2 L1449.5,1051.6 L1452.5,1053.1 L1455.5,1054.5 L1458.5,1055.9 L1461.5,1057.3 L1464.5,1058.7 L1467.5,1060.1 L1470.5,1061.4 L1473.5,1062.8 L1476.5,1064.1 L1479.5,1065.4 L1482.5,1066.7 L1485.5,1068.0 L1488.5,1069.3 L1491.5,1070.6 L1494.5,1071.8 L1497.5,1073.1 L1500.5,1074.3 L1503.5,1075.5 L1506.5,1076.7 L1509.5,1077.9 L1512.5,1079.1 L1515.5,1080.3 L1518.5,1081.4 L1521.5,1082.6 L1524.5,1083.7 L1527.5,1084.8 L1530.5,1085.9 L1533.5,1087.0 L1536.5,1088.1 L1539.5,1089.2 L1542.5,1090.3 L1545.5,1091.4 L1548.5,1092.4 L1551.5,1093.5 L1554.5,1094.5 L1557.5,1095.5 L1560.5,1096.5 L1563.5,1097.5 L1566.5,1098.5 L1569.5,1099.5 L1572.5,1100.5 L1575.5,1101.5 L1578.5,1102.4 L1581.5,1103.4 L1584.5,1104.3 L1587.5,1105.3 L1590.5,1106.2 L1593.5,1107.1 L1596.5,1108.0 L1599.5,1108.9 L1602.5,1109.8 L1605.5,1110.7 L1608.5,1111.6 L1611.5,1112.5 L1614.5,1113.4 L1617.5,1114.3 L1620.5,1115.1 L1623.5,1116.0 L1626.5,1116.8 L1629.5,1117.7 L1632.5,1118.5 L1635.5,1119.3 L1638.5,1120.2 L1641.5,1121.0 L1644.5,1121.8 L1647.5,1122.6 L1650.5,1123.4 L1653.5,1124.2 L1656.5,1125.0 L1659.5,1125.7 L1662.5,1126.5 L1665.5,1127.3 L1668.5,1128.1 L1671.5,1128.8 L1674.5,1129.6 L1677.5,1130.3 L1680.5,1131.1 L1683.5,1131.8 L1686.5,1132.5 L1689.5,1133.2 L1692.5,1134.0 L1695.5,1134.7 L1698.5,1135.4 L1701.5,1136.1 L1704.5,1136.8 L1707.5,1137.5 L1710.5,1138.2 L1713.5,1138.9 L1716.5,1139.5 L1719.5,1140.2 L1722.5,1140.9 L1725.5,1141.6 L1728.5,1142.2 L1731.5,1142.9 L1734.5,1143.5 L1737.5,1144.2 L1740.5,1144.8 L1743.5,1145.5 L1746.5,1146.1 L1749.5,1146.7 L1752.5,1147.4 L1755.5,1148.0 L1758.5,1148.6 L1761.5,1149.2 L1764.5,1149.8 L1767.5,1150.4 L1770.5,1151.0 L1773.5,1151.6 L1776.5,1152.2 L1779.5,1152.8 L1782.5,1153.4 L1785.5,1154.0 L1788.5,1154.6 L1791.5,1155.2 L1794.5,1155.7 L1797.5,1156.3 L1800.5,1156.9 L1803.5,1157.4 L1806.5,1158.0 L1809.5,1158.6 L1812.5,1159.1 L1815.5,1159.7 L1818.5,1160.2 L1821.5,1160.8 L1824.5,1161.3 L1827.5,1161.9 L1830.5,1162.4 L1833.5,1163.0 L1836.5,1163.5 L1839.5,1164.0 L1842.5,1164.6 L1845.5,1165.1 L1848.5,1165.6 L1851.5,1166.1 L1854.5,1166.7 L1857.5,1167.2 L1860.5,1167.7 L1863.5,1168.2 L1866.5,1168.7 L1869.5,1169.2 L1872.5,1169.8 L1875.5,1170.3 L1878.5,1170.8 L1881.5,1171.3 L1884.5,1171.8 L1887.5,1172.3 L1890.5,1172.8 L1893.5,1173.3 L1896.5,1173.8 L1899.5,1174.3 L1902.5,1174.8 L1905.5,1175.3 L1908.5,1175.8 L1911.5,1176.3 L1914.5,1176.8 L1917.5,1177.2 L1920.5,1177.7 L1923.5,1178.2 L1926.5,1178.7 L1929.5,1179.2 L1932.5,1179.7 L1935.5,1180.2 L1938.5,1180.7 L1941.5,1181.1 L1944.5,1181.6 L1947.5,1182.1 L1950.5,1182.6 L1953.5,1183.1 L1956.5,1183.6 L1959.5,1184.1 L1962.5,1184.5 L1965.5,1185.0 L1968.5,1185.5 L1971.5,1186.0 L1974.5,1186.5 L1977.5,1187.0 L1980.5,1187.4 L1983.5,1187.9 L1986.5,1188.4 L1989.5,1188.9 L1992.5,1189.4 L1995.5,1189.9 L1998.5,1190.4 L2001.5,1190.9 L2004.5,1191.3 L2007.5,1191.8 L2010.5,1192.3 L2012.0,1192.6" stroke="#008000" stroke-width="17"/>
<path d="M444.5,854.4 L447.5,859.7 L450.5,865.1 L453.5,870.7 L456.5,876.4 L459.5,882.2 L462.5,888.0 L465.5,893.9 L468.5,899.8 L471.5,905.7 L474.5,911.5 L477.5,917.4 L480.5,923.2 L483.5,928.9 L486.5,934.6 L489.5,940.1 L492.5,945.5 L495.5,950.7 L498.5,955.8 L501.5,960.7 L504.5,965.4 L507.5,969.9 L510.5,974.1 L513.5,978.0 L516.5,981.7 L519.5,985.1 L522.5,988.1 L525.5,990.9 L528.5,993.3 L531.5,995.4 L534.5,997.3 L537.5,998.8 L540.5,1000.1 L543.5,1001.1 L546.5,1001.9 L549.5,1002.4 L552.5,1002.7 L555.5,1002.7 L558.5,1002.6 L561.5,1002.2 L564.5,1001.6 L567.5,1000.8 L570.5,999.8 L573.5,998.7 L576.5,997.3 L579.5,995.9 L582.5,994.2 L585.5,992.4 L588.5,990.5 L591.5,988.4 L594.5,986.2 L597.5,983.9 L600.5,981.4 L603.5,978.8 L606.5,976.1 L609.5,973.2 L612.5,970.3 L615.5,967.2 L618.5,964.0 L621.5,960.7 L624.5,957.3 L627.5,953.7 L630.5,950.1 L633.5,946.4 L636.5,942.6 L639.5,938.7 L642.5,934.7 L645.5,930.7 L648.5,926.5 L651.5,922.3 L654.5,918.0 L657.5,913.6 L660.5,909.2 L663.5,904.7 L666.5,900.1 L669.5,895.5 L672.5,890.8 L675.5,886.1 L678.5,881.3 L681.5,876.5 L684.5,871.6 L687.5,866.7 L690.5,861.8 L693.5,856.8 L696.5,851.8 L699.5,846.7 L702.5,841.7 L705.5,836.6 L708.5,831.5 L711.5,826.4 L714.5,821.3 L717.5,816.2 L720.5,811.1 L723.5,805.9 L726.5,800.8 L729.5,795.6 L732.5,790.5 L735.5,785.3 L738.5,780.1 L741.5,774.9 L744.5,769.7 L747.5,764.4 L750.5,759.2 L753.5,753.9 L756.5,748.5 L759.5,743.2 L762.5,737.8 L765.5,732.4 L768.5,727.0 L771.5,721.5 L774.5,716.0 L777.5,710.5 L780.5,705.0 L783.5,699.4 L786.5,693.8 L789.5,688.2 L792.5,682.7 L795.5,677.1 L798.5,671.6 L801.5,666.0 L804.5,660.6 L807.5,655.1 L810.5,649.8 L813.5,644.4 L816.5,639.2 L819.5,634.0 L822.5,628.8 L825.5,623.8 L828.5,618.8 L831.5,613.9 L834.5,609.1 L837.5,604.4 L840.5,599.7 L843.5,595.1 L846.5,590.6 L849.5,586.2 L852.5,581.9 L855.5,577.7 L858.5,573.6 L861.5,569.5 L864.5,565.6 L867.5,561.7 L870.5,558.0 L873.5,554.3 L876.5,550.8 L879.5,547.4 L882.5,544.0 L885.5,540.8 L888.5,537.6 L891.5,534.6 L894.5,531.7 L897.5,528.9 L900.5,526.3 L903.5,523.7 L906.5,521.2 L909.5,518.9 L912.5,516.7 L915.5,514.6 L918.5,512.7 L921.5,510.8 L924.5,509.1 L927.5,507.6 L930.5,506.1 L933.5,504.8 L936.5,503.6 L939.5,502.6 L942.5,501.7 L945.5,500.9 L948.5,500.3 L951.5,499.8 L954.5,499.4 L957.5,499.2 L960.5,499.2 L963.5,499.3 L966.5,499.5 L969.5,499.9 L972.5,500.5 L975.5,501.2 L978.5,502.1 L981.5,503.1 L984.5,504.3 L987.5,505.6 L990.5,507.1 L993.5,508.8 L996.5,510.5 L999.5,512.5 L1002.5,514.6 L1005.5,516.8 L1008.5,519.1 L1011.5,521.6 L1014.5,524.2 L1017.5,526.9 L1020.5,529.7 L1023.5,532.6 L1026.5,535.6 L1029.5,538.7 L1032.5,541.9 L1035.5,545.3 L1038.5,548.7 L1041.5,552.1 L1044.5,555.7 L1047.5,559.3 L1050.5,563.0 L1053.5,566.8 L1056.5,570.6 L1059.5,574.5 L1062.5,578.4 L1065.5,582.4 L1068.5,586.4 L1071.5,590.4 L1074.5,594.6 L1077.5,598.7 L1080.5,602.9 L1083.5,607.1 L1086.5,611.4 L1089.5,615.7 L1092.5,620.0 L1095.5,624.4 L1098.5,628.8 L1101.5,633.2 L1104.5,637.7 L1107.5,642.2 L1110.5,646.7 L1113.5,651.3 L1116.5,655.8 L1119.5,660.4 L1122.5,665.1 L1125.5,669.7 L1128.5,674.4 L1131.5,679.1 L1134.5,683.8 L1137.5,688.5 L1140.5,693.2 L1143.5,698.0 L1146.5,702.7 L1149.5,707.5 L1152.5,712.3 L1155.5,717.0 L1158.5,721.8 L1161.5,726.6 L1164.5,731.4 L1167.5,736.1 L1170.5,740.8 L1173.5,745.6 L1176.5,750.3 L1179.5,754.9 L1182.5,759.6 L1185.5,764.2 L1188.5,768.8 L1191.5,773.3 L1194.5,777.8 L1197.5,782.3 L1200.5,786.7 L1203.5,791.1 L1206.5,795.4 L1209.5,799.6 L1212.5,803.9 L1215.5,808.0 L1218.5,812.2 L1221.5,816.2 L1224.5,820.3 L1227.5,824.3 L1230.5,828.2 L1233.5,832.1 L1236.5,836.0 L1239.5,839.9 L1242.5,843.6 L1245.5,847.4 L1248.5,851.1 L1251.5,854.8 L1254.5,858.4 L1257.5,862.0 L1260.5,865.6 L1263.5,869.1 L1266.5,872.6 L1269.5,876.1 L1272.5,879.5 L1275.5,882.9 L1278.5,886.2 L1281.5,889.6 L1284.5,892.9 L1287.5,896.1 L1290.5,899.3 L1293.5,902.5 L1296.5,905.7 L1299.5,908.8 L1302.5,911.9 L1305.5,915.0 L1308.5,918.0 L1311.5,921.0 L1314.5,924.0 L1317.5,926.9 L1320.5,929.8 L1323.5,932.7 L1326.5,935.6 L1329.5,938.4 L1332.5,941.2 L1335.5,943.9 L1338.5,946.7 L1341.5,949.4 L1344.5,952.1 L1347.5,954.7 L1350.5,957.3 L1353.5,959.9 L1356.5,962.5 L1359.5,965.0 L1362.5,967.5 L1365.5,970.0 L1368.5,972.5 L1371.5,974.9 L1374.5,977.3 L1377.5,979.7 L1380.5,982.0 L1383.5,984.4 L1386.5,986.7 L1389.5,988.9 L1392.5,991.2 L1395.5,993.4 L1398.5,995.6 L1401.5,997.8 L1404.5,1000.0 L1407.5,1002.1 L1410.5,1004.2 L1413.5,1006.3 L1416.5,1008.3 L1419.5,1010.4 L1422.5,1012.4 L1425.5,1014.4 L1428.5,1016.3 L1431.5,1018.3 L1434.5,1020.2 L1437.5,1022.1 L1440.5,1024.0 L1443.5,1025.9 L1446.5,1027.7 L1449.5,1029.5 L1452.5,1031.3 L1455.5,1033.1 L1458.5,1034.9 L1461.5,1036.6 L1464.5,1038.3 L1467.5,1040.0 L1470.5,1041.7 L1473.5,1043.4 L1476.5,1045.0 L1479.5,1046.7 L1482.5,1048.3 L1485.5,1049.9 L1488.5,1051.4 L1491.5,1053.0 L1494.5,1054.5 L1497.5,1056.1 L1500.5,1057.6 L1503.5,1059.0 L1506.5,1060.5 L1509.5,1062.0 L1512.5,1063.4 L1515.5,1064.8 L1518.5,1066.2 L1521.5,1067.6 L1524.5,1069.0 L1527.5,1070.4 L1530.5,1071.7 L1533.5,1073.1 L1536.5,1074.4 L1539.5,1075.7 L1542.5,1077.0 L1545.5,1078.3 L1548.5,1079.5 L1551.5,1080.8 L1554.5,1082.0 L1557.5,1083.3 L1560.5,1084.5 L1563.5,1085.7 L1566.5,1086.9 L1569.5,1088.1 L1572.5,1089.2 L1575.5,1090.4 L1578.5,1091.6 L1581.5,1092.7 L1584.5,1093.8 L1587.5,1094.9 L1590.5,1096.0 L1593.5,1097.1 L1596.5,1098.2 L1599.5,1099.3 L1602.5,1100.4 L1605.5,1101.4 L1608.5,1102.5 L1611.5,1103.5 L1614.5,1104.6 L1617.5,1105.6 L1620.5,1106.6 L1623.5,1107.6 L1626.5,1108.6 L1629.5,1109.6 L1632.5,1110.6 L1635.5,1111.6 L1638.5,1112.6 L1641.5,1113.6 L1644.5,1114.5 L1647.5,1115.5 L1650.5,1116.5 L1653.5,1117.4 L1656.5,1118.3 L1659.5,1119.3 L1662.5,1120.2 L1665.5,1121.1 L1668.5,1122.1 L1671.5,1123.0 L1674.5,1123.9 L1677.5,1124.8 L1680.5,1125.7 L1683.5,1126.6 L1686.5,1127.5 L1689.5,1128.3 L1692.5,1129.2 L1695.5,1130.1 L1698.5,1130.9 L1701.5,1131.8 L1704.5,1132.7 L1707.5,1133.5 L1710.5,1134.3 L1713.5,1135.2 L1716.5,1136.0 L1719.5,1136.8 L1722.5,1137.7 L1725.5,1138.5 L1728.5,1139.3 L1731.5,1140.1 L1734.5,1140.9 L1737.5,1141.7 L1740.5,1142.5 L1743.5,1143.3 L1746.5,1144.0 L1749.5,1144.8 L1752.5,1145.6 L1755.5,1146.3 L1758.5,1147.1 L1761.5,1147.8 L1764.5,1148.6 L1767.5,1149.3 L1770.5,1150.1 L1773.5,1150.8 L1776.5,1151.5 L1779.5,1152.3 L1782.5,1153.0 L1785.5,1153.7 L1788.5,1154.4 L1791.5,1155.1 L1794.5,1155.8 L1797.5,1156.5 L1800.5,1157.2 L1803.5,1157.9 L1806.5,1158.6 L1809.5,1159.2 L1812.5,1159.9 L1815.5,1160.6 L1818.5,1161.2 L1821.5,1161.9 L1824.5,1162.6 L1827.5,1163.2 L1830.5,1163.9 L1833.5,1164.5 L1836.5,1165.1 L1839.5,1165.8 L1842.5,1166.4 L1845.5,1167.0 L1848.5,1167.6 L1851.5,1168.3 L1854.5,1168.9 L1857.5,1169.5 L1860.5,1170.1 L1863.5,1170.7 L1866.5,1171.3 L1869.5,1171.9 L1872.5,1172.4 L1875.5,1173.0 L1878.5,1173.6 L1881.5,1174.2 L1884.5,1174.8 L1887.5,1175.3 L1890.5,1175.9 L1893.5,1176.4 L1896.5,1177.0 L1899.5,1177.6 L1902.5,1178.1 L1905.5,1178.6 L1908.5,1179.2 L1911.5,1179.7 L1914.5,1180.3 L1917.5,1180.8 L1920.5,1181.3 L1923.5,1181.8 L1926.5,1182.4 L1929.5,1182.9 L1932.5,1183.4 L1935.5,1183.9 L1938.5,1184.4 L1941.5,1184.9 L1944.5,1185.4 L1947.5,1185.9 L1950.5,1186.4 L1953.5,1186.9 L1956.5,1187.4 L1959.5,1187.8 L1962.5,1188.3 L1965.5,1188.8 L1968.5,1189.3 L1971.5,1189.7 L1974.5,1190.2 L1977.5,1190.7 L1980.5,1191.1 L1983.5,1191.6 L1986.5,1192.0 L1989.5,1192.5 L1992.5,1192.9 L1995.5,1193.4 L1998.5,1193.8 L2001.5,1194.3 L2004.5,1194.7 L2007.5,1195.1 L2010.5,1195.6 L2012.0,1195.8" stroke="#FF0080" stroke-width="17"/>
<path d="M444.5,830.5 L447.5,834.7 L450.5,839.1 L453.5,843.9 L456.5,848.9 L459.5,854.1 L462.5,859.6 L465.5,865.2 L468.5,870.9 L471.5,876.8 L474.5,882.7 L477.5,888.7 L480.5,894.7 L483.5,900.7 L486.5,906.7 L489.5,912.6 L492.5,918.4 L495.5,924.1 L498.5,929.7 L501.5,935.1 L504.5,940.2 L507.5,945.2 L510.5,949.9 L513.5,954.5 L516.5,958.7 L519.5,962.8 L522.5,966.6 L525.5,970.1 L528.5,973.3 L531.5,976.3 L534.5,979.0 L537.5,981.4 L540.5,983.5 L543.5,985.3 L546.5,986.8 L549.5,987.9 L552.5,988.7 L555.5,989.2 L558.5,989.3 L561.5,989.2 L564.5,988.7 L567.5,988.1 L570.5,987.2 L573.5,986.1 L576.5,984.9 L579.5,983.5 L582.5,982.1 L585.5,980.5 L588.5,978.9 L591.5,977.1 L594.5,975.3 L597.5,973.4 L600.5,971.4 L603.5,969.3 L606.5,967.1 L609.5,964.8 L612.5,962.4 L615.5,960.0 L618.5,957.4 L621.5,954.8 L624.5,952.1 L627.5,949.3 L630.5,946.5 L633.5,943.5 L636.5,940.5 L639.5,937.4 L642.5,934.2 L645.5,931.0 L648.5,927.6 L651.5,924.2 L654.5,920.8 L657.5,917.2 L660.5,913.6 L663.5,909.9 L666.5,906.1 L669.5,902.3 L672.5,898.4 L675.5,894.4 L678.5,890.4 L681.5,886.3 L684.5,882.1 L687.5,877.9 L690.5,873.6 L693.5,869.2 L696.5,864.8 L699.5,860.4 L702.5,855.8 L705.5,851.3 L708.5,846.6 L711.5,841.9 L714.5,837.2 L717.5,832.4 L720.5,827.5 L723.5,822.6 L726.5,817.6 L729.5,812.6 L732.5,807.5 L735.5,802.4 L738.5,797.3 L741.5,792.1 L744.5,786.9 L747.5,781.6 L750.5,776.4 L753.5,771.0 L756.5,765.7 L759.5,760.3 L762.5,755.0 L765.5,749.6 L768.5,744.1 L771.5,738.7 L774.5,733.3 L777.5,727.8 L780.5,722.4 L783.5,716.9 L786.5,711.5 L789.5,706.0 L792.5,700.5 L795.5,695.1 L798.5,689.7 L801.5,684.2 L804.5,678.8 L807.5,673.4 L810.5,668.1 L813.5,662.7 L816.5,657.4 L819.5,652.1 L822.5,646.8 L825.5,641.6 L828.5,636.4 L831.5,631.2 L834.5,626.1 L837.5,621.0 L840.5,616.0 L843.5,611.0 L846.5,606.1 L849.5,601.2 L852.5,596.4 L855.5,591.6 L858.5,586.9 L861.5,582.3 L864.5,577.7 L867.5,573.2 L870.5,568.8 L873.5,564.4 L876.5,560.1 L879.5,555.9 L882.5,551.8 L885.5,547.8 L888.5,543.9 L891.5,540.0 L894.5,536.2 L897.5,532.6 L900.5,529.0 L903.5,525.6 L906.5,522.2 L909.5,519.0 L912.5,515.8 L915.5,512.8 L918.5,509.9 L921.5,507.1 L924.5,504.4 L927.5,501.8 L930.5,499.4 L933.5,497.1 L936.5,494.9 L939.5,492.9 L942.5,491.0 L945.5,489.2 L948.5,487.6 L951.5,486.1 L954.5,484.8 L957.5,483.6 L960.5,482.6 L963.5,481.7 L966.5,481.0 L969.5,480.4 L972.5,480.0 L975.5,479.8 L978.5,479.7 L981.5,479.8 L984.5,480.1 L987.5,480.5 L990.5,481.1 L993.5,481.8 L996.5,482.7 L999.5,483.7 L1002.5,484.8 L1005.5,486.1 L1008.5,487.6 L1011.5,489.1 L1014.5,490.8 L1017.5,492.7 L1020.5,494.6 L1023.5,496.7 L1026.5,498.8 L1029.5,501.1 L1032.5,503.6 L1035.5,506.1 L1038.5,508.7 L1041.5,511.4 L1044.5,514.3 L1047.5,517.2 L1050.5,520.2 L1053.5,523.3 L1056.5,526.5 L1059.5,529.8 L1062.5,533.2 L1065.5,536.7 L1068.5,540.2 L1071.5,543.8 L1074.5,547.5 L1077.5,551.2 L1080.5,555.1 L1083.5,559.0 L1086.5,562.9 L1089.5,566.9 L1092.5,571.0 L1095.5,575.1 L1098.5,579.3 L1101.5,583.5 L1104.5,587.7 L1107.5,592.0 L1110.5,596.4 L1113.5,600.8 L1116.5,605.2 L1119.5,609.7 L1122.5,614.1 L1125.5,618.7 L1128.5,623.2 L1131.5,627.8 L1134.5,632.4 L1137.5,637.0 L1140.5,641.6 L1143.5,646.2 L1146.5,650.9 L1149.5,655.5 L1152.5,660.2 L1155.5,664.9 L1158.5,669.6 L1161.5,674.3 L1164.5,678.9 L1167.5,683.6 L1170.5,688.3 L1173.5,692.9 L1176.5,697.6 L1179.5,702.2 L1182.5,706.9 L1185.5,711.5 L1188.5,716.1 L1191.5,720.7 L1194.5,725.3 L1197.5,729.9 L1200.5,734.4 L1203.5,739.0 L1206.5,743.5 L1209.5,748.0 L1212.5,752.5 L1215.5,757.0 L1218.5,761.4 L1221.5,765.8 L1224.5,770.2 L1227.5,774.6 L1230.5,778.9 L1233.5,783.2 L1236.5,787.5 L1239.5,791.8 L1242.5,796.0 L1245.5,800.2 L1248.5,804.3 L1251.5,808.4 L1254.5,812.5 L1257.5,816.6 L1260.5,820.6 L1263.5,824.6 L1266.5,828.5 L1269.5,832.4 L1272.5,836.3 L1275.5,840.1 L1278.5,843.9 L1281.5,847.6 L1284.5,851.3 L1287.5,855.0 L1290.5,858.6 L1293.5,862.2 L1296.5,865.7 L1299.5,869.2 L1302.5,872.7 L1305.5,876.1 L1308.5,879.5 L1311.5,882.9 L1314.5,886.2 L1317.5,889.5 L1320.5,892.8 L1323.5,896.0 L1326.5,899.2 L1329.5,902.3 L1332.5,905.4 L1335.5,908.5 L1338.5,911.6 L1341.5,914.6 L1344.5,917.5 L1347.5,920.5 L1350.5,923.4 L1353.5,926.3 L1356.5,929.1 L1359.5,932.0 L1362.5,934.7 L1365.5,937.5 L1368.5,940.2 L1371.5,942.9 L1374.5,945.6 L1377.5,948.2 L1380.5,950.8 L1383.5,953.4 L1386.5,955.9 L1389.5,958.4 L1392.5,960.9 L1395.5,963.4 L1398.5,965.8 L1401.5,968.2 L1404.5,970.6 L1407.5,972.9 L1410.5,975.2 L1413.5,977.5 L1416.5,979.8 L1419.5,982.0 L1422.5,984.3 L1425.5,986.4 L1428.5,988.6 L1431.5,990.7 L1434.5,992.9 L1437.5,994.9 L1440.5,997.0 L1443.5,999.0 L1446.5,1001.1 L1449.5,1003.1 L1452.5,1005.0 L1455.5,1007.0 L1458.5,1008.9 L1461.5,1010.8 L1464.5,1012.7 L1467.5,1014.5 L1470.5,1016.4 L1473.5,1018.2 L1476.5,1020.0 L1479.5,1021.8 L1482.5,1023.5 L1485.5,1025.3 L1488.5,1027.0 L1491.5,1028.7 L1494.5,1030.4 L1497.5,1032.0 L1500.5,1033.7 L1503.5,1035.3 L1506.5,1036.9 L1509.5,1038.5 L1512.5,1040.0 L1515.5,1041.6 L1518.5,1043.1 L1521.5,1044.6 L1524.5,1046.2 L1527.5,1047.6 L1530.5,1049.1 L1533.5,1050.6 L1536.5,1052.0 L1539.5,1053.4 L1542.5,1054.8 L1545.5,1056.2 L1548.5,1057.6 L1551.5,1059.0 L1554.5,1060.4 L1557.5,1061.7 L1560.5,1063.0 L1563.5,1064.4 L1566.5,1065.7 L1569.5,1067.0 L1572.5,1068.2 L1575.5,1069.5 L1578.5,1070.8 L1581.5,1072.0 L1584.5,1073.3 L1587.5,1074.5 L1590.5,1075.7 L1593.5,1076.9 L1596.5,1078.1 L1599.5,1079.3 L1602.5,1080.5 L1605.5,1081.7 L1608.5,1082.8 L1611.5,1084.0 L1614.5,1085.2 L1617.5,1086.3 L1620.5,1087.4 L1623.5,1088.6 L1626.5,1089.7 L1629.5,1090.8 L1632.5,1091.9 L1635.5,1093.0 L1638.5,1094.1 L1641.5,1095.1 L1644.5,1096.2 L1647.5,1097.3 L1650.5,1098.3 L1653.5,1099.3 L1656.5,1100.4 L1659.5,1101.4 L1662.5,1102.4 L1665.5,1103.4 L1668.5,1104.5 L1671.5,1105.5 L1674.5,1106.4 L1677.5,1107.4 L1680.5,1108.4 L1683.5,1109.4 L1686.5,1110.3 L1689.5,1111.3 L1692.5,1112.2 L1695.5,1113.2 L1698.5,1114.1 L1701.5,1115.0 L1704.5,1116.0 L1707.5,1116.9 L1710.5,1117.8 L1713.5,1118.7 L1716.5,1119.6 L1719.5,1120.5 L1722.5,1121.3 L1725.5,1122.2 L1728.5,1123.1 L1731.5,1123.9 L1734.5,1124.8 L1737.5,1125.6 L1740.5,1126.5 L1743.5,1127.3 L1746.5,1128.1 L1749.5,1129.0 L1752.5,1129.8 L1755.5,1130.6 L1758.5,1131.4 L1761.5,1132.2 L1764.5,1133.0 L1767.5,1133.8 L1770.5,1134.6 L1773.5,1135.3 L1776.5,1136.1 L1779.5,1136.9 L1782.5,1137.6 L1785.5,1138.4 L1788.5,1139.1 L1791.5,1139.9 L1794.5,1140.6 L1797.5,1141.3 L1800.5,1142.1 L1803.5,1142.8 L1806.5,1143.5 L1809.5,1144.2 L1812.5,1144.9 L1815.5,1145.6 L1818.5,1146.3 L1821.5,1147.0 L1824.5,1147.7 L1827.5,1148.4 L1830.5,1149.1 L1833.5,1149.7 L1836.5,1150.4 L1839.5,1151.1 L1842.5,1151.7 L1845.5,1152.4 L1848.5,1153.0 L1851.5,1153.7 L1854.5,1154.3 L1857.5,1155.0 L1860.5,1155.6 L1863.5,1156.2 L1866.5,1156.9 L1869.5,1157.5 L1872.5,1158.1 L1875.5,1158.7 L1878.5,1159.3 L1881.5,1159.9 L1884.5,1160.5 L1887.5,1161.1 L1890.5,1161.7 L1893.5,1162.3 L1896.5,1162.9 L1899.5,1163.5 L1902.5,1164.1 L1905.5,1164.7 L1908.5,1165.2 L1911.5,1165.8 L1914.5,1166.4 L1917.5,1166.9 L1920.5,1167.5 L1923.5,1168.1 L1926.5,1168.6 L1929.5,1169.2 L1932.5,1169.7 L1935.5,1170.3 L1938.5,1170.8 L1941.5,1171.4 L1944.5,1171.9 L1947.5,1172.4 L1950.5,1173.0 L1953.5,1173.5 L1956.5,1174.0 L1959.5,1174.6 L1962.5,1175.1 L1965.5,1175.6 L1968.5,1176.1 L1971.5,1176.7 L1974.5,1177.2 L1977.5,1177.7 L1980.5,1178.2 L1983.5,1178.7 L1986.5,1179.2 L1989.5,1179.7 L1992.5,1180.2 L1995.5,1180.7 L1998.5,1181.2 L2001.5,1181.7 L2004.5,1182.2 L2007.5,1182.7 L2010.5,1183.2 L2012.0,1183.5" stroke="#008080" stroke-width="17"/>
</g>
<g clip-path="url(#cb)" fill="none" stroke-linejoin="round">
<path d="M432.0,2575.8 L435.0,2580.4 L438.0,2585.0 L441.0,2589.8 L444.0,2594.8 L447.0,2599.8 L450.0,2604.9 L453.0,2610.1 L456.0,2615.3 L459.0,2620.5 L462.0,2625.8 L465.0,2631.0 L468.0,2636.1 L471.0,2641.2 L474.0,2646.2 L477.0,2651.1 L480.0,2655.9 L483.0,2660.5 L486.0,2664.9 L489.0,2669.1 L492.0,2673.1 L495.0,2676.9 L498.0,2680.4 L501.0,2683.6 L504.0,2686.6 L507.0,2689.2 L510.0,2691.5 L513.0,2693.4 L516.0,2695.0 L519.0,2696.2 L522.0,2697.0 L525.0,2697.3 L528.0,2697.3 L531.0,2696.7 L534.0,2695.8 L537.0,2694.5 L540.0,2692.8 L543.0,2690.8 L546.0,2688.4 L549.0,2685.6 L552.0,2682.6 L555.0,2679.3 L558.0,2675.7 L561.0,2671.8 L564.0,2667.7 L567.0,2663.4 L570.0,2658.9 L573.0,2654.2 L576.0,2649.3 L579.0,2644.3 L582.0,2639.1 L585.0,2633.7 L588.0,2628.2 L591.0,2622.5 L594.0,2616.6 L597.0,2610.7 L600.0,2604.6 L603.0,2598.4 L606.0,2592.0 L609.0,2585.6 L612.0,2579.0 L615.0,2572.3 L618.0,2565.6 L621.0,2558.7 L624.0,2551.8 L627.0,2544.8 L630.0,2537.7 L633.0,2530.6 L636.0,2523.4 L639.0,2516.2 L642.0,2508.9 L645.0,2501.5 L648.0,2494.2 L651.0,2486.8 L654.0,2479.4 L657.0,2471.9 L660.0,2464.5 L663.0,2457.0 L666.0,2449.6 L669.0,2442.2 L672.0,2434.8 L675.0,2427.4 L678.0,2420.0 L681.0,2412.7 L684.0,2405.4 L687.0,2398.1 L690.0,2390.9 L693.0,2383.8 L696.0,2376.7 L699.0,2369.7 L702.0,2362.8 L705.0,2355.9 L708.0,2349.1 L711.0,2342.5 L714.0,2335.9 L717.0,2329.4 L720.0,2323.1 L723.0,2316.8 L726.0,2310.7 L729.0,2304.7 L732.0,2298.8 L735.0,2293.0 L738.0,2287.4 L741.0,2282.0 L744.0,2276.7 L747.0,2271.5 L750.0,2266.5 L753.0,2261.7 L756.0,2257.0 L759.0,2252.6 L762.0,2248.3 L765.0,2244.2 L768.0,2240.2 L771.0,2236.5 L774.0,2232.9 L777.0,2229.5 L780.0,2226.3 L783.0,2223.3 L786.0,2220.5 L789.0,2217.8 L792.0,2215.3 L795.0,2213.0 L798.0,2210.9 L801.0,2209.0 L804.0,2207.2 L807.0,2205.6 L810.0,2204.3 L813.0,2203.0 L816.0,2202.0 L819.0,2201.2 L822.0,2200.5 L825.0,2200.0 L828.0,2199.7 L831.0,2199.6 L834.0,2199.6 L837.0,2199.9 L840.0,2200.3 L843.0,2200.9 L846.0,2201.6 L849.0,2202.6 L852.0,2203.6 L855.0,2204.9 L858.0,2206.3 L861.0,2207.9 L864.0,2209.6 L867.0,2211.5 L870.0,2213.5 L873.0,2215.7 L876.0,2218.0 L879.0,2220.4 L882.0,2222.9 L885.0,2225.6 L888.0,2228.5 L891.0,2231.4 L894.0,2234.4 L897.0,2237.6 L900.0,2240.9 L903.0,2244.3 L906.0,2247.8 L909.0,2251.4 L912.0,2255.1 L915.0,2258.9 L918.0,2262.8 L921.0,2266.7 L924.0,2270.8 L927.0,2274.9 L930.0,2279.2 L933.0,2283.5 L936.0,2287.8 L939.0,2292.3 L942.0,2296.8 L945.0,2301.3 L948.0,2305.9 L951.0,2310.6 L954.0,2315.4 L957.0,2320.1 L960.0,2325.0 L963.0,2329.8 L966.0,2334.7 L969.0,2339.7 L972.0,2344.6 L975.0,2349.6 L978.0,2354.7 L981.0,2359.7 L984.0,2364.8 L987.0,2369.8 L990.0,2374.9 L993.0,2380.0 L996.0,2385.1 L999.0,2390.3 L1002.0,2395.4 L1005.0,2400.5 L1008.0,2405.6 L1011.0,2410.7 L1014.0,2415.7 L1017.0,2420.8 L1020.0,2425.9 L1023.0,2430.9 L1026.0,2435.9 L1029.0,2440.9 L1032.0,2445.8 L1035.0,2450.8 L1038.0,2455.7 L1041.0,2460.5 L1044.0,2465.4 L1047.0,2470.2 L1050.0,2474.9 L1053.0,2479.6 L1056.0,2484.3 L1059.0,2488.9 L1062.0,2493.5 L1065.0,2498.0 L1068.0,2502.4 L1071.0,2506.8 L1074.0,2511.1 L1077.0,2515.4 L1080.0,2519.6 L1083.0,2523.7 L1086.0,2527.8 L1089.0,2531.8 L1092.0,2535.8 L1095.0,2539.7 L1098.0,2543.5 L1101.0,2547.3 L1104.0,2551.0 L1107.0,2554.7 L1110.0,2558.4 L1113.0,2562.0 L1116.0,2565.5 L1119.0,2569.0 L1122.0,2572.5 L1125.0,2576.0 L1128.0,2579.4 L1131.0,2582.8 L1134.0,2586.2 L1137.0,2589.5 L1140.0,2592.9 L1143.0,2596.2 L1146.0,2599.5 L1149.0,2602.8 L1152.0,2606.0 L1155.0,2609.3 L1158.0,2612.6 L1161.0,2615.8 L1164.0,2619.1 L1167.0,2622.3 L1170.0,2625.5 L1173.0,2628.7 L1176.0,2631.9 L1179.0,2635.1 L1182.0,2638.2 L1185.0,2641.4 L1188.0,2644.5 L1191.0,2647.6 L1194.0,2650.7 L1197.0,2653.7 L1200.0,2656.8 L1203.0,2659.8 L1206.0,2662.8 L1209.0,2665.7 L1212.0,2668.7 L1215.0,2671.6 L1218.0,2674.5 L1221.0,2677.3 L1224.0,2680.1 L1227.0,2682.9 L1230.0,2685.7 L1233.0,2688.4 L1236.0,2691.1 L1239.0,2693.7 L1242.0,2696.3 L1245.0,2698.9 L1248.0,2701.4 L1251.0,2703.9 L1254.0,2706.4 L1257.0,2708.8 L1260.0,2711.1 L1263.0,2713.5 L1266.0,2715.7 L1269.0,2718.0 L1272.0,2720.2 L1275.0,2722.3 L1278.0,2724.4 L1281.0,2726.5 L1284.0,2728.6 L1287.0,2730.6 L1290.0,2732.5 L1293.0,2734.5 L1296.0,2736.4 L1299.0,2738.2 L1302.0,2740.1 L1305.0,2741.9 L1308.0,2743.7 L1311.0,2745.4 L1314.0,2747.2 L1317.0,2748.9 L1320.0,2750.5 L1323.0,2752.2 L1326.0,2753.8 L1329.0,2755.4 L1332.0,2757.0 L1335.0,2758.5 L1338.0,2760.1 L1341.0,2761.6 L1344.0,2763.1 L1347.0,2764.6 L1350.0,2766.1 L1353.0,2767.5 L1356.0,2769.0 L1359.0,2770.4 L1362.0,2771.8 L1365.0,2773.2 L1368.0,2774.6 L1371.0,2776.0 L1374.0,2777.3 L1377.0,2778.7 L1380.0,2780.1 L1383.0,2781.4 L1386.0,2782.7 L1389.0,2784.1 L1392.0,2785.4 L1395.0,2786.7 L1398.0,2788.0 L1401.0,2789.2 L1404.0,2790.5 L1407.0,2791.8 L1410.0,2793.0 L1413.0,2794.3 L1416.0,2795.5 L1419.0,2796.7 L1422.0,2798.0 L1425.0,2799.2 L1428.0,2800.4 L1431.0,2801.6 L1434.0,2802.7 L1437.0,2803.9 L1440.0,2805.1 L1443.0,2806.2 L1446.0,2807.4 L1449.0,2808.5 L1452.0,2809.6 L1455.0,2810.7 L1458.0,2811.8 L1461.0,2813.0 L1464.0,2814.0 L1467.0,2815.1 L1470.0,2816.2 L1473.0,2817.3 L1476.0,2818.3 L1479.0,2819.4 L1482.0,2820.4 L1485.0,2821.5 L1488.0,2822.5 L1491.0,2823.5 L1494.0,2824.5 L1497.0,2825.5 L1500.0,2826.5 L1503.0,2827.5 L1506.0,2828.5 L1509.0,2829.5 L1512.0,2830.4 L1515.0,2831.4 L1518.0,2832.3 L1521.0,2833.3 L1524.0,2834.2 L1527.0,2835.2 L1530.0,2836.1 L1533.0,2837.0 L1536.0,2837.9 L1539.0,2838.8 L1542.0,2839.7 L1545.0,2840.6 L1548.0,2841.5 L1551.0,2842.3 L1554.0,2843.2 L1557.0,2844.1 L1560.0,2844.9 L1563.0,2845.8 L1566.0,2846.6 L1569.0,2847.5 L1572.0,2848.3 L1575.0,2849.1 L1578.0,2849.9 L1581.0,2850.8 L1584.0,2851.6 L1587.0,2852.4 L1590.0,2853.2 L1593.0,2854.0 L1596.0,2854.7 L1599.0,2855.5 L1602.0,2856.3 L1605.0,2857.1 L1608.0,2857.8 L1611.0,2858.6 L1614.0,2859.3 L1617.0,2860.1 L1620.0,2860.8 L1623.0,2861.6 L1626.0,2862.3 L1629.0,2863.0 L1632.0,2863.7 L1635.0,2864.4 L1638.0,2865.2 L1641.0,2865.9 L1644.0,2866.6 L1647.0,2867.3 L1650.0,2868.0 L1653.0,2868.6 L1656.0,2869.3 L1659.0,2870.0 L1662.0,2870.7 L1665.0,2871.4 L1668.0,2872.0 L1671.0,2872.7 L1674.0,2873.3 L1677.0,2874.0 L1680.0,2874.7 L1683.0,2875.3 L1686.0,2875.9 L1689.0,2876.6 L1692.0,2877.2 L1695.0,2877.9 L1698.0,2878.5 L1701.0,2879.1 L1704.0,2879.7 L1707.0,2880.3 L1710.0,2881.0 L1713.0,2881.6 L1716.0,2882.2 L1719.0,2882.8 L1722.0,2883.4 L1725.0,2884.0 L1728.0,2884.6 L1731.0,2885.2 L1734.0,2885.8 L1737.0,2886.3 L1740.0,2886.9 L1743.0,2887.5 L1746.0,2888.1 L1749.0,2888.6 L1752.0,2889.2 L1755.0,2889.8 L1758.0,2890.3 L1761.0,2890.9 L1764.0,2891.5 L1767.0,2892.0 L1770.0,2892.6 L1773.0,2893.1 L1776.0,2893.6 L1779.0,2894.2 L1782.0,2894.7 L1785.0,2895.3 L1788.0,2895.8 L1791.0,2896.3 L1794.0,2896.8 L1797.0,2897.4 L1800.0,2897.9 L1803.0,2898.4 L1806.0,2898.9 L1809.0,2899.4 L1812.0,2899.9 L1815.0,2900.4 L1818.0,2900.9 L1821.0,2901.4 L1824.0,2901.9 L1827.0,2902.4 L1830.0,2902.9 L1833.0,2903.4 L1836.0,2903.9 L1839.0,2904.4 L1842.0,2904.9 L1845.0,2905.3 L1848.0,2905.8 L1851.0,2906.3 L1854.0,2906.8 L1857.0,2907.2 L1860.0,2907.7 L1863.0,2908.2 L1866.0,2908.6 L1869.0,2909.1 L1872.0,2909.5 L1875.0,2910.0 L1878.0,2910.4 L1881.0,2910.9 L1884.0,2911.3 L1887.0,2911.8 L1890.0,2912.2 L1893.0,2912.7 L1896.0,2913.1 L1899.0,2913.5 L1902.0,2914.0 L1905.0,2914.4 L1908.0,2914.8 L1911.0,2915.3 L1914.0,2915.7 L1917.0,2916.1 L1920.0,2916.5 L1923.0,2916.9 L1926.0,2917.4 L1929.0,2917.8 L1932.0,2918.2 L1935.0,2918.6 L1938.0,2919.0 L1941.0,2919.4 L1944.0,2919.8 L1947.0,2920.2 L1950.0,2920.6 L1953.0,2921.0 L1956.0,2921.4 L1959.0,2921.8 L1962.0,2922.2 L1965.0,2922.6 L1968.0,2923.0 L1971.0,2923.4 L1974.0,2923.8 L1977.0,2924.2 L1980.0,2924.5 L1983.0,2924.9 L1986.0,2925.3 L1989.0,2925.7 L1992.0,2926.1 L1995.0,2926.4 L1998.0,2926.8 L2001.0,2927.2 L2004.0,2927.5 L2007.0,2927.9 L2010.0,2928.3 L2013.0,2928.7 L2016.0,2929.0 L2019.0,2929.4 L2022.0,2929.7 L2025.0,2930.1 L2028.0,2930.5 L2031.0,2930.8 L2034.0,2931.2 L2037.0,2931.5 L2040.0,2931.9 L2043.0,2932.2 L2046.0,2932.6 L2049.0,2932.9 L2052.0,2933.3" stroke="#000" stroke-width="17"/>
<path d="M454.8,2607.1 L456.8,2610.6 L458.8,2614.1 L460.8,2617.6 L462.8,2621.1 L464.8,2624.5 L466.8,2628.0 L467.5,2629.3 M493.2,2668.7 L495.2,2671.2 L497.2,2673.5 L499.2,2675.8 L501.2,2677.9 L503.2,2679.9 L505.2,2681.7 L507.2,2683.4 L509.2,2684.9 L511.2,2686.3 L511.8,2686.6 M556.5,2671.5 L558.5,2669.1 L560.5,2666.5 L562.5,2663.8 L564.5,2661.0 L566.5,2658.2 L568.5,2655.2 L570.5,2652.1 L571.2,2651.0 M594.8,2609.2 L596.8,2605.2 L598.8,2601.1 L600.8,2597.0 L602.8,2592.9 L604.8,2588.7 L606.0,2586.0 M623.5,2547.0 L625.5,2542.3 L627.5,2537.6 L629.5,2532.9 L631.5,2528.2 L633.5,2523.4 M649.8,2483.9 L651.8,2478.9 L653.8,2474.0 L655.8,2469.0 L657.8,2464.1 L659.2,2460.3 M675.0,2421.4 L677.0,2416.4 L679.0,2411.5 L681.0,2406.7 L683.0,2401.8 L684.5,2398.2 M701.0,2359.1 L703.0,2354.5 L705.0,2349.9 L707.0,2345.4 L709.0,2340.9 L711.0,2336.5 L711.2,2335.9 M730.8,2295.2 L732.8,2291.3 L734.8,2287.5 L736.8,2283.7 L738.8,2280.0 L740.8,2276.4 L742.8,2272.8 L743.0,2272.4 M770.0,2231.7 L772.0,2229.3 L774.0,2226.9 L776.0,2224.7 L778.0,2222.5 L780.0,2220.3 L782.0,2218.3 L784.0,2216.4 L786.0,2214.5 L787.8,2212.9 M828.0,2193.7 L830.0,2193.6 L832.0,2193.6 L834.0,2193.6 L836.0,2193.8 L838.0,2194.0 L840.0,2194.3 L842.0,2194.6 L844.0,2195.1 L846.0,2195.6 L848.0,2196.2 L850.0,2196.9 L852.0,2197.6 L853.0,2198.0 M891.5,2225.9 L893.5,2227.9 L895.5,2230.0 L897.5,2232.2 L899.5,2234.4 L901.5,2236.6 L903.5,2238.9 L905.5,2241.2 L907.5,2243.6 L908.5,2244.8 M938.8,2285.9 L940.8,2288.9 L942.8,2291.9 L944.8,2294.9 L946.8,2298.0 L948.8,2301.1 L950.8,2304.2 L952.8,2307.4 M977.5,2347.8 L979.5,2351.2 L981.5,2354.5 L983.5,2357.9 L985.5,2361.3 L987.5,2364.7 L989.5,2368.1 L990.5,2369.8 M1013.5,2408.9 L1015.5,2412.3 L1017.5,2415.6 L1019.5,2419.0 L1021.5,2422.4 L1023.5,2425.7 L1025.5,2429.1 L1026.5,2430.7 M1052.5,2472.8 L1054.5,2476.0 L1056.5,2479.1 L1058.5,2482.1 L1060.5,2485.2 L1062.5,2488.2 L1064.5,2491.2 L1066.5,2494.2 M1099.8,2539.7 L1101.8,2542.2 L1103.8,2544.7 L1105.8,2547.2 L1107.8,2549.6 L1109.8,2552.1 L1111.8,2554.5 L1113.8,2556.9 L1115.8,2559.2 L1116.0,2559.5 M1149.8,2597.6 L1151.8,2599.8 L1153.8,2602.0 L1155.8,2604.1 L1157.8,2606.3 L1159.8,2608.5 L1161.8,2610.6 L1163.8,2612.8 L1165.8,2614.9 L1167.2,2616.6 M1208.5,2659.2 L1210.5,2661.2 L1212.5,2663.2 L1214.5,2665.1 L1216.5,2667.0 L1218.5,2668.9 L1220.5,2670.8 L1222.5,2672.7 L1224.5,2674.6 L1226.5,2676.4 L1227.0,2676.9 M1269.8,2712.9 L1271.8,2714.4 L1273.8,2715.9 L1275.8,2717.3 L1277.8,2718.8 L1279.8,2720.2 L1281.8,2721.6 L1283.8,2723.0 L1285.8,2724.4 L1287.8,2725.7 L1289.8,2727.1 L1290.5,2727.6 M1332.0,2752.5 L1334.0,2753.5 L1336.0,2754.6 L1338.0,2755.7 L1340.0,2756.7 L1342.0,2757.8 L1344.0,2758.8 L1346.0,2759.8 L1348.0,2760.8 L1350.0,2761.9 L1352.0,2762.9 L1354.0,2763.9 L1354.8,2764.2 M1394.5,2783.1 L1396.5,2784.0 L1398.5,2784.9 L1400.5,2785.7 L1402.5,2786.6 L1404.5,2787.5 L1406.5,2788.4 L1408.5,2789.3 L1410.5,2790.1 L1412.5,2791.0 L1414.5,2791.9 L1416.5,2792.7 L1418.0,2793.4 M1457.0,2809.2 L1459.0,2810.0 L1461.0,2810.7 L1463.0,2811.5 L1465.0,2812.3 L1467.0,2813.0 L1469.0,2813.8 L1471.0,2814.5 L1473.0,2815.3 L1475.0,2816.0 L1477.0,2816.8 L1479.0,2817.5 L1481.0,2818.2 M1518.5,2831.0 L1520.5,2831.7 L1522.5,2832.3 L1524.5,2832.9 L1526.5,2833.5 L1528.5,2834.2 L1530.5,2834.8 L1532.5,2835.4 L1534.5,2836.0 L1536.5,2836.6 L1538.5,2837.2 L1540.5,2837.8 L1542.5,2838.4 L1543.0,2838.6 M1580.5,2849.3 L1582.5,2849.8 L1584.5,2850.3 L1586.5,2850.9 L1588.5,2851.4 L1590.5,2851.9 L1592.5,2852.5 L1594.5,2853.0 L1596.5,2853.5 L1598.5,2854.1 L1600.5,2854.6 L1602.5,2855.1 L1604.5,2855.6 L1605.5,2855.9 M1643.2,2865.1 L1645.2,2865.6 L1647.2,2866.1 L1649.2,2866.5 L1651.2,2867.0 L1653.2,2867.5 L1655.2,2867.9 L1657.2,2868.4 L1659.2,2868.8 L1661.2,2869.3 L1663.2,2869.7 L1665.2,2870.2 L1667.2,2870.6 L1668.2,2870.9 M1705.8,2878.9 L1707.8,2879.3 L1709.8,2879.8 L1711.8,2880.2 L1713.8,2880.6 L1715.8,2881.0 L1717.8,2881.4 L1719.8,2881.8 L1721.8,2882.2 L1723.8,2882.6 L1725.8,2883.0 L1727.8,2883.4 L1729.8,2883.8 L1730.8,2884.0 M1768.0,2891.1 L1770.0,2891.5 L1772.0,2891.9 L1774.0,2892.2 L1776.0,2892.6 L1778.0,2893.0 L1780.0,2893.3 L1782.0,2893.7 L1784.0,2894.1 L1786.0,2894.4 L1788.0,2894.8 L1790.0,2895.1 L1792.0,2895.5 L1793.5,2895.7 M1830.5,2902.1 L1832.5,2902.4 L1834.5,2902.7 L1836.5,2903.0 L1838.5,2903.4 L1840.5,2903.7 L1842.5,2904.0 L1844.5,2904.3 L1846.5,2904.7 L1848.5,2905.0 L1850.5,2905.3 L1852.5,2905.6 L1854.5,2905.9 L1856.0,2906.2 M1893.0,2911.8 L1895.0,2912.1 L1897.0,2912.4 L1899.0,2912.7 L1901.0,2913.0 L1903.0,2913.3 L1905.0,2913.6 L1907.0,2913.9 L1909.0,2914.2 L1911.0,2914.4 L1913.0,2914.7 L1915.0,2915.0 L1917.0,2915.3 L1918.5,2915.5 M1956.0,2920.7 L1958.0,2921.0 L1960.0,2921.2 L1962.0,2921.5 L1964.0,2921.7 L1966.0,2922.0 L1968.0,2922.3 L1970.0,2922.5 L1972.0,2922.8 L1974.0,2923.1 L1976.0,2923.3 L1978.0,2923.6 L1980.0,2923.8 L1981.5,2924.0 M2018.5,2928.7 L2020.5,2928.9 L2022.5,2929.2 L2024.5,2929.4 L2026.5,2929.7 L2028.5,2929.9 L2030.5,2930.1 L2032.5,2930.4 L2034.5,2930.6 L2036.5,2930.9 L2038.5,2931.1 L2040.5,2931.3 L2042.5,2931.6 L2044.0,2931.8" stroke="#FF0000" stroke-width="17" stroke-linecap="round"/>
</g>
</svg>
</body></html>
